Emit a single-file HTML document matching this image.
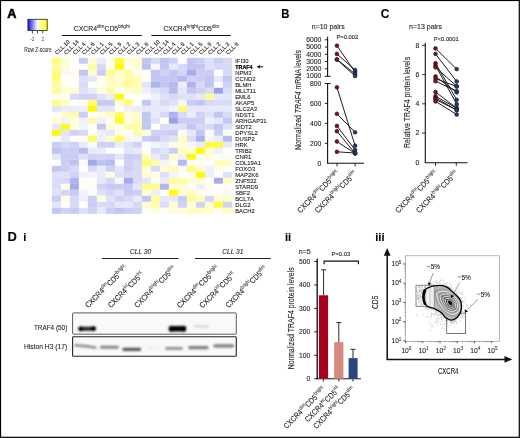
<!DOCTYPE html>
<html><head><meta charset="utf-8"><title>Figure</title>
<style>html,body{margin:0;padding:0;background:#fff;width:520px;height:438px;overflow:hidden}svg text{font-family:"Liberation Sans", sans-serif;stroke:#222;stroke-width:0.1px;paint-order:stroke}</style>
</head><body>
<svg width="520" height="438" viewBox="0 0 520 438" style="display:block;font-family:&quot;Liberation Sans&quot;, sans-serif"><defs><linearGradient id="lg" x1="0" x2="1" y1="0" y2="0"><stop offset="0" stop-color="#1010e0"/><stop offset="0.5" stop-color="#ffffff"/><stop offset="1" stop-color="#ffff00"/></linearGradient><filter id="blur1" x="-20%" y="-80%" width="140%" height="260%"><feGaussianBlur stdDeviation="0.8"/></filter><filter id="blur2" x="-20%" y="-80%" width="140%" height="260%"><feGaussianBlur stdDeviation="0.9"/></filter><filter id="blur05" x="-10%" y="-10%" width="120%" height="120%"><feGaussianBlur stdDeviation="0.35"/></filter><filter id="ident" x="0" y="0" width="520" height="438" filterUnits="userSpaceOnUse"><feOffset dx="0" dy="0"/></filter></defs><g filter="url(#ident)"><rect x="0" y="0" width="520" height="438" fill="#fff"/><text x="7.3" y="17.9" font-size="12.6" font-weight="bold" style="stroke:#000;stroke-width:0.55px" textLength="9.2" lengthAdjust="spacingAndGlyphs">A</text><rect x="27.9" y="19.3" width="19.3" height="11.2" fill="url(#lg)" stroke="#222" stroke-width="0.8"/><line x1="32.4" y1="30.6" x2="32.4" y2="33.4" stroke="#222" stroke-width="0.8"/><line x1="37.5" y1="30.6" x2="37.5" y2="33.4" stroke="#222" stroke-width="0.8"/><line x1="42.7" y1="30.6" x2="42.7" y2="33.4" stroke="#222" stroke-width="0.8"/><text x="32.4" y="41.4" font-size="4.7" text-anchor="middle" fill="#444" style="stroke-width:0">-2</text><text x="42.7" y="41.4" font-size="4.7" text-anchor="middle" fill="#444" style="stroke-width:0">2</text><text x="24.2" y="51.6" font-size="6.6" fill="#333" textLength="27.5" lengthAdjust="spacingAndGlyphs">Row Z-score</text><text x="73.8" y="30.8" font-size="6.8" text-anchor="start" textLength="56" lengthAdjust="spacingAndGlyphs" fill="#222"><tspan>CXCR4</tspan><tspan font-size="4.62" dy="-2.72" fill="#222" stroke-width="0.05">dim</tspan><tspan dy="2.72">CD5</tspan><tspan font-size="4.62" dy="-2.72" fill="#222" stroke-width="0.05">bright</tspan></text><text x="163.4" y="30.8" font-size="6.8" text-anchor="start" textLength="56" lengthAdjust="spacingAndGlyphs" fill="#222"><tspan>CXCR4</tspan><tspan font-size="4.62" dy="-2.72" fill="#222" stroke-width="0.05">bright</tspan><tspan dy="2.72">CD5</tspan><tspan font-size="4.62" dy="-2.72" fill="#222" stroke-width="0.05">dim</tspan></text><line x1="62" y1="35.5" x2="141.8" y2="35.5" stroke="#111" stroke-width="1"/><line x1="151.4" y1="35.5" x2="230.8" y2="35.5" stroke="#111" stroke-width="1"/><text x="57.30" y="55.0" font-size="5.7" fill="#222" transform="rotate(-45 57.30 55.0)">CLL 10</text><text x="66.30" y="55.0" font-size="5.7" fill="#222" transform="rotate(-45 66.30 55.0)">CLL 14</text><text x="75.30" y="55.0" font-size="5.7" fill="#222" transform="rotate(-45 75.30 55.0)">CLL 4</text><text x="84.30" y="55.0" font-size="5.7" fill="#222" transform="rotate(-45 84.30 55.0)">CLL 6</text><text x="93.30" y="55.0" font-size="5.7" fill="#222" transform="rotate(-45 93.30 55.0)">CLL 1</text><text x="102.30" y="55.0" font-size="5.7" fill="#222" transform="rotate(-45 102.30 55.0)">CLL 5</text><text x="111.30" y="55.0" font-size="5.7" fill="#222" transform="rotate(-45 111.30 55.0)">CLL 9</text><text x="120.30" y="55.0" font-size="5.7" fill="#222" transform="rotate(-45 120.30 55.0)">CLL 2</text><text x="129.30" y="55.0" font-size="5.7" fill="#222" transform="rotate(-45 129.30 55.0)">CLL 3</text><text x="138.30" y="55.0" font-size="5.7" fill="#222" transform="rotate(-45 138.30 55.0)">CLL 8</text><text x="147.30" y="55.0" font-size="5.7" fill="#222" transform="rotate(-45 147.30 55.0)">CLL 10</text><text x="156.30" y="55.0" font-size="5.7" fill="#222" transform="rotate(-45 156.30 55.0)">CLL 14</text><text x="165.30" y="55.0" font-size="5.7" fill="#222" transform="rotate(-45 165.30 55.0)">CLL 4</text><text x="174.30" y="55.0" font-size="5.7" fill="#222" transform="rotate(-45 174.30 55.0)">CLL 6</text><text x="183.30" y="55.0" font-size="5.7" fill="#222" transform="rotate(-45 183.30 55.0)">CLL 1</text><text x="192.30" y="55.0" font-size="5.7" fill="#222" transform="rotate(-45 192.30 55.0)">CLL 5</text><text x="201.30" y="55.0" font-size="5.7" fill="#222" transform="rotate(-45 201.30 55.0)">CLL 9</text><text x="210.30" y="55.0" font-size="5.7" fill="#222" transform="rotate(-45 210.30 55.0)">CLL 2</text><text x="219.30" y="55.0" font-size="5.7" fill="#222" transform="rotate(-45 219.30 55.0)">CLL 3</text><text x="228.30" y="55.0" font-size="5.7" fill="#222" transform="rotate(-45 228.30 55.0)">CLL 8</text><rect x="51.90" y="57.80" width="9.05" height="6.05" fill="#fffc77"/><rect x="60.90" y="57.80" width="9.05" height="6.05" fill="#fffdd1"/><rect x="69.90" y="57.80" width="9.05" height="6.05" fill="#ffffff"/><rect x="78.90" y="57.80" width="9.05" height="6.05" fill="#c7caf3"/><rect x="87.90" y="57.80" width="9.05" height="6.05" fill="#fffdd1"/><rect x="96.90" y="57.80" width="9.05" height="6.05" fill="#ebecfb"/><rect x="105.90" y="57.80" width="9.05" height="6.05" fill="#fffeef"/><rect x="114.90" y="57.80" width="9.05" height="6.05" fill="#fffb3f"/><rect x="123.90" y="57.80" width="9.05" height="6.05" fill="#fffdd1"/><rect x="132.90" y="57.80" width="9.05" height="6.05" fill="#fffdd1"/><rect x="141.90" y="57.80" width="9.05" height="6.05" fill="#c2c6f2"/><rect x="150.90" y="57.80" width="9.05" height="6.05" fill="#d7d9f7"/><rect x="159.90" y="57.80" width="9.05" height="6.05" fill="#c2c6f2"/><rect x="168.90" y="57.80" width="9.05" height="6.05" fill="#cfd2f5"/><rect x="177.90" y="57.80" width="9.05" height="6.05" fill="#ffffff"/><rect x="186.90" y="57.80" width="9.05" height="6.05" fill="#c2c6f2"/><rect x="195.90" y="57.80" width="9.05" height="6.05" fill="#cbcef4"/><rect x="204.90" y="57.80" width="9.05" height="6.05" fill="#dfe1f8"/><rect x="213.90" y="57.80" width="9.05" height="6.05" fill="#cbcef4"/><rect x="222.90" y="57.80" width="9.05" height="6.05" fill="#d7d9f7"/><rect x="51.90" y="63.80" width="9.05" height="6.05" fill="#fffca8"/><rect x="60.90" y="63.80" width="9.05" height="6.05" fill="#fffdd1"/><rect x="69.90" y="63.80" width="9.05" height="6.05" fill="#ffffff"/><rect x="78.90" y="63.80" width="9.05" height="6.05" fill="#ffffff"/><rect x="87.90" y="63.80" width="9.05" height="6.05" fill="#fffca8"/><rect x="96.90" y="63.80" width="9.05" height="6.05" fill="#d7d9f7"/><rect x="105.90" y="63.80" width="9.05" height="6.05" fill="#fffeef"/><rect x="114.90" y="63.80" width="9.05" height="6.05" fill="#fffa00"/><rect x="123.90" y="63.80" width="9.05" height="6.05" fill="#fffeef"/><rect x="132.90" y="63.80" width="9.05" height="6.05" fill="#fffdd1"/><rect x="141.90" y="63.80" width="9.05" height="6.05" fill="#babff1"/><rect x="150.90" y="63.80" width="9.05" height="6.05" fill="#f7f7fd"/><rect x="159.90" y="63.80" width="9.05" height="6.05" fill="#c2c6f2"/><rect x="168.90" y="63.80" width="9.05" height="6.05" fill="#e7e8fa"/><rect x="177.90" y="63.80" width="9.05" height="6.05" fill="#d7d9f7"/><rect x="186.90" y="63.80" width="9.05" height="6.05" fill="#c2c6f2"/><rect x="195.90" y="63.80" width="9.05" height="6.05" fill="#c2c6f2"/><rect x="204.90" y="63.80" width="9.05" height="6.05" fill="#dfe1f8"/><rect x="213.90" y="63.80" width="9.05" height="6.05" fill="#d7d9f7"/><rect x="222.90" y="63.80" width="9.05" height="6.05" fill="#d7d9f7"/><rect x="51.90" y="69.80" width="9.05" height="6.05" fill="#fffc77"/><rect x="60.90" y="69.80" width="9.05" height="6.05" fill="#f7f7fd"/><rect x="69.90" y="69.80" width="9.05" height="6.05" fill="#fffee4"/><rect x="78.90" y="69.80" width="9.05" height="6.05" fill="#c2c6f2"/><rect x="87.90" y="69.80" width="9.05" height="6.05" fill="#fffdd1"/><rect x="96.90" y="69.80" width="9.05" height="6.05" fill="#cbcef4"/><rect x="105.90" y="69.80" width="9.05" height="6.05" fill="#fffc95"/><rect x="114.90" y="69.80" width="9.05" height="6.05" fill="#fffdd1"/><rect x="123.90" y="69.80" width="9.05" height="6.05" fill="#fffca8"/><rect x="132.90" y="69.80" width="9.05" height="6.05" fill="#fffeef"/><rect x="141.90" y="69.80" width="9.05" height="6.05" fill="#fffef8"/><rect x="150.90" y="69.80" width="9.05" height="6.05" fill="#c2c6f2"/><rect x="159.90" y="69.80" width="9.05" height="6.05" fill="#cfd2f5"/><rect x="168.90" y="69.80" width="9.05" height="6.05" fill="#c2c6f2"/><rect x="177.90" y="69.80" width="9.05" height="6.05" fill="#d3d6f6"/><rect x="186.90" y="69.80" width="9.05" height="6.05" fill="#a6aced"/><rect x="195.90" y="69.80" width="9.05" height="6.05" fill="#cbcef4"/><rect x="204.90" y="69.80" width="9.05" height="6.05" fill="#cbcef4"/><rect x="213.90" y="69.80" width="9.05" height="6.05" fill="#ffffff"/><rect x="222.90" y="69.80" width="9.05" height="6.05" fill="#d7d9f7"/><rect x="51.90" y="75.80" width="9.05" height="6.05" fill="#fffc77"/><rect x="60.90" y="75.80" width="9.05" height="6.05" fill="#ffffff"/><rect x="69.90" y="75.80" width="9.05" height="6.05" fill="#fffef8"/><rect x="78.90" y="75.80" width="9.05" height="6.05" fill="#dfe1f8"/><rect x="87.90" y="75.80" width="9.05" height="6.05" fill="#e3e5f9"/><rect x="96.90" y="75.80" width="9.05" height="6.05" fill="#fffeef"/><rect x="105.90" y="75.80" width="9.05" height="6.05" fill="#fffdb9"/><rect x="114.90" y="75.80" width="9.05" height="6.05" fill="#fffdd1"/><rect x="123.90" y="75.80" width="9.05" height="6.05" fill="#fffca8"/><rect x="132.90" y="75.80" width="9.05" height="6.05" fill="#fffdb9"/><rect x="141.90" y="75.80" width="9.05" height="6.05" fill="#fffffb"/><rect x="150.90" y="75.80" width="9.05" height="6.05" fill="#c2c6f2"/><rect x="159.90" y="75.80" width="9.05" height="6.05" fill="#c2c6f2"/><rect x="168.90" y="75.80" width="9.05" height="6.05" fill="#c2c6f2"/><rect x="177.90" y="75.80" width="9.05" height="6.05" fill="#b6bbf0"/><rect x="186.90" y="75.80" width="9.05" height="6.05" fill="#cfd2f5"/><rect x="195.90" y="75.80" width="9.05" height="6.05" fill="#cbcef4"/><rect x="204.90" y="75.80" width="9.05" height="6.05" fill="#c2c6f2"/><rect x="213.90" y="75.80" width="9.05" height="6.05" fill="#e7e8fa"/><rect x="222.90" y="75.80" width="9.05" height="6.05" fill="#c2c6f2"/><rect x="51.90" y="81.80" width="9.05" height="6.05" fill="#fffca8"/><rect x="60.90" y="81.80" width="9.05" height="6.05" fill="#fffeef"/><rect x="69.90" y="81.80" width="9.05" height="6.05" fill="#fffef8"/><rect x="78.90" y="81.80" width="9.05" height="6.05" fill="#d7d9f7"/><rect x="87.90" y="81.80" width="9.05" height="6.05" fill="#fffeef"/><rect x="96.90" y="81.80" width="9.05" height="6.05" fill="#fffeef"/><rect x="105.90" y="81.80" width="9.05" height="6.05" fill="#fffdc1"/><rect x="114.90" y="81.80" width="9.05" height="6.05" fill="#fffdc1"/><rect x="123.90" y="81.80" width="9.05" height="6.05" fill="#fffc95"/><rect x="132.90" y="81.80" width="9.05" height="6.05" fill="#fffdb9"/><rect x="141.90" y="81.80" width="9.05" height="6.05" fill="#e3e5f9"/><rect x="150.90" y="81.80" width="9.05" height="6.05" fill="#aeb4ee"/><rect x="159.90" y="81.80" width="9.05" height="6.05" fill="#c2c6f2"/><rect x="168.90" y="81.80" width="9.05" height="6.05" fill="#b6bbf0"/><rect x="177.90" y="81.80" width="9.05" height="6.05" fill="#eff0fc"/><rect x="186.90" y="81.80" width="9.05" height="6.05" fill="#aeb4ee"/><rect x="195.90" y="81.80" width="9.05" height="6.05" fill="#d7d9f7"/><rect x="204.90" y="81.80" width="9.05" height="6.05" fill="#c2c6f2"/><rect x="213.90" y="81.80" width="9.05" height="6.05" fill="#fbfbfe"/><rect x="222.90" y="81.80" width="9.05" height="6.05" fill="#cfd2f5"/><rect x="51.90" y="87.80" width="9.05" height="6.05" fill="#fffc95"/><rect x="60.90" y="87.80" width="9.05" height="6.05" fill="#fffdd1"/><rect x="69.90" y="87.80" width="9.05" height="6.05" fill="#fffdd1"/><rect x="78.90" y="87.80" width="9.05" height="6.05" fill="#dfe1f8"/><rect x="87.90" y="87.80" width="9.05" height="6.05" fill="#ebecfb"/><rect x="96.90" y="87.80" width="9.05" height="6.05" fill="#fffede"/><rect x="105.90" y="87.80" width="9.05" height="6.05" fill="#fffca8"/><rect x="114.90" y="87.80" width="9.05" height="6.05" fill="#fffffe"/><rect x="123.90" y="87.80" width="9.05" height="6.05" fill="#fffdd1"/><rect x="132.90" y="87.80" width="9.05" height="6.05" fill="#fffdb9"/><rect x="141.90" y="87.80" width="9.05" height="6.05" fill="#eff0fc"/><rect x="150.90" y="87.80" width="9.05" height="6.05" fill="#dfe1f8"/><rect x="159.90" y="87.80" width="9.05" height="6.05" fill="#d7d9f7"/><rect x="168.90" y="87.80" width="9.05" height="6.05" fill="#b6bbf0"/><rect x="177.90" y="87.80" width="9.05" height="6.05" fill="#e3e5f9"/><rect x="186.90" y="87.80" width="9.05" height="6.05" fill="#c2c6f2"/><rect x="195.90" y="87.80" width="9.05" height="6.05" fill="#cfd2f5"/><rect x="204.90" y="87.80" width="9.05" height="6.05" fill="#dbddf8"/><rect x="213.90" y="87.80" width="9.05" height="6.05" fill="#9aa1ea"/><rect x="222.90" y="87.80" width="9.05" height="6.05" fill="#dbddf8"/><rect x="51.90" y="93.80" width="9.05" height="6.05" fill="#fffef4"/><rect x="60.90" y="93.80" width="9.05" height="6.05" fill="#fffeef"/><rect x="69.90" y="93.80" width="9.05" height="6.05" fill="#d7d9f7"/><rect x="78.90" y="93.80" width="9.05" height="6.05" fill="#cfd2f5"/><rect x="87.90" y="93.80" width="9.05" height="6.05" fill="#cfd2f5"/><rect x="96.90" y="93.80" width="9.05" height="6.05" fill="#dfe1f8"/><rect x="105.90" y="93.80" width="9.05" height="6.05" fill="#ebecfb"/><rect x="114.90" y="93.80" width="9.05" height="6.05" fill="#fffa00"/><rect x="123.90" y="93.80" width="9.05" height="6.05" fill="#fffffe"/><rect x="132.90" y="93.80" width="9.05" height="6.05" fill="#fffffe"/><rect x="141.90" y="93.80" width="9.05" height="6.05" fill="#fbfbfe"/><rect x="150.90" y="93.80" width="9.05" height="6.05" fill="#eff0fc"/><rect x="159.90" y="93.80" width="9.05" height="6.05" fill="#dfe1f8"/><rect x="168.90" y="93.80" width="9.05" height="6.05" fill="#d7d9f7"/><rect x="177.90" y="93.80" width="9.05" height="6.05" fill="#dfe1f8"/><rect x="186.90" y="93.80" width="9.05" height="6.05" fill="#dfe1f8"/><rect x="195.90" y="93.80" width="9.05" height="6.05" fill="#e7e8fa"/><rect x="204.90" y="93.80" width="9.05" height="6.05" fill="#fffc8b"/><rect x="213.90" y="93.80" width="9.05" height="6.05" fill="#e7e8fa"/><rect x="222.90" y="93.80" width="9.05" height="6.05" fill="#e3e5f9"/><rect x="51.90" y="99.80" width="9.05" height="6.05" fill="#fffc8b"/><rect x="60.90" y="99.80" width="9.05" height="6.05" fill="#fffdc1"/><rect x="69.90" y="99.80" width="9.05" height="6.05" fill="#fffffb"/><rect x="78.90" y="99.80" width="9.05" height="6.05" fill="#fffeea"/><rect x="87.90" y="99.80" width="9.05" height="6.05" fill="#fffc77"/><rect x="96.90" y="99.80" width="9.05" height="6.05" fill="#c7caf3"/><rect x="105.90" y="99.80" width="9.05" height="6.05" fill="#c7caf3"/><rect x="114.90" y="99.80" width="9.05" height="6.05" fill="#fffdd1"/><rect x="123.90" y="99.80" width="9.05" height="6.05" fill="#fffc77"/><rect x="132.90" y="99.80" width="9.05" height="6.05" fill="#fffffe"/><rect x="141.90" y="99.80" width="9.05" height="6.05" fill="#c2c6f2"/><rect x="150.90" y="99.80" width="9.05" height="6.05" fill="#e7e8fa"/><rect x="159.90" y="99.80" width="9.05" height="6.05" fill="#d7d9f7"/><rect x="168.90" y="99.80" width="9.05" height="6.05" fill="#dfe1f8"/><rect x="177.90" y="99.80" width="9.05" height="6.05" fill="#f3f4fc"/><rect x="186.90" y="99.80" width="9.05" height="6.05" fill="#cbcef4"/><rect x="195.90" y="99.80" width="9.05" height="6.05" fill="#c2c6f2"/><rect x="204.90" y="99.80" width="9.05" height="6.05" fill="#d7d9f7"/><rect x="213.90" y="99.80" width="9.05" height="6.05" fill="#dbddf8"/><rect x="222.90" y="99.80" width="9.05" height="6.05" fill="#d7d9f7"/><rect x="51.90" y="105.80" width="9.05" height="6.05" fill="#e3e5f9"/><rect x="60.90" y="105.80" width="9.05" height="6.05" fill="#ebecfb"/><rect x="69.90" y="105.80" width="9.05" height="6.05" fill="#ebecfb"/><rect x="78.90" y="105.80" width="9.05" height="6.05" fill="#eff0fc"/><rect x="87.90" y="105.80" width="9.05" height="6.05" fill="#fffa00"/><rect x="96.90" y="105.80" width="9.05" height="6.05" fill="#e3e5f9"/><rect x="105.90" y="105.80" width="9.05" height="6.05" fill="#e3e5f9"/><rect x="114.90" y="105.80" width="9.05" height="6.05" fill="#ffffff"/><rect x="123.90" y="105.80" width="9.05" height="6.05" fill="#eff0fc"/><rect x="132.90" y="105.80" width="9.05" height="6.05" fill="#ebecfb"/><rect x="141.90" y="105.80" width="9.05" height="6.05" fill="#e7e8fa"/><rect x="150.90" y="105.80" width="9.05" height="6.05" fill="#e7e8fa"/><rect x="159.90" y="105.80" width="9.05" height="6.05" fill="#e7e8fa"/><rect x="168.90" y="105.80" width="9.05" height="6.05" fill="#f3f4fc"/><rect x="177.90" y="105.80" width="9.05" height="6.05" fill="#fffc77"/><rect x="186.90" y="105.80" width="9.05" height="6.05" fill="#e7e8fa"/><rect x="195.90" y="105.80" width="9.05" height="6.05" fill="#e7e8fa"/><rect x="204.90" y="105.80" width="9.05" height="6.05" fill="#e7e8fa"/><rect x="213.90" y="105.80" width="9.05" height="6.05" fill="#e7e8fa"/><rect x="222.90" y="105.80" width="9.05" height="6.05" fill="#e7e8fa"/><rect x="51.90" y="111.80" width="9.05" height="6.05" fill="#ffffff"/><rect x="60.90" y="111.80" width="9.05" height="6.05" fill="#fffdc1"/><rect x="69.90" y="111.80" width="9.05" height="6.05" fill="#fffca8"/><rect x="78.90" y="111.80" width="9.05" height="6.05" fill="#cbcef4"/><rect x="87.90" y="111.80" width="9.05" height="6.05" fill="#ffffff"/><rect x="96.90" y="111.80" width="9.05" height="6.05" fill="#fffede"/><rect x="105.90" y="111.80" width="9.05" height="6.05" fill="#fffdc1"/><rect x="114.90" y="111.80" width="9.05" height="6.05" fill="#fffb61"/><rect x="123.90" y="111.80" width="9.05" height="6.05" fill="#fffdd1"/><rect x="132.90" y="111.80" width="9.05" height="6.05" fill="#fffdd1"/><rect x="141.90" y="111.80" width="9.05" height="6.05" fill="#c2c6f2"/><rect x="150.90" y="111.80" width="9.05" height="6.05" fill="#ebecfb"/><rect x="159.90" y="111.80" width="9.05" height="6.05" fill="#d7d9f7"/><rect x="168.90" y="111.80" width="9.05" height="6.05" fill="#aeb4ee"/><rect x="177.90" y="111.80" width="9.05" height="6.05" fill="#d7d9f7"/><rect x="186.90" y="111.80" width="9.05" height="6.05" fill="#ebecfb"/><rect x="195.90" y="111.80" width="9.05" height="6.05" fill="#cfd2f5"/><rect x="204.90" y="111.80" width="9.05" height="6.05" fill="#dfe1f8"/><rect x="213.90" y="111.80" width="9.05" height="6.05" fill="#c2c6f2"/><rect x="222.90" y="111.80" width="9.05" height="6.05" fill="#d7d9f7"/><rect x="51.90" y="117.80" width="9.05" height="6.05" fill="#fffdd1"/><rect x="60.90" y="117.80" width="9.05" height="6.05" fill="#f3f4fc"/><rect x="69.90" y="117.80" width="9.05" height="6.05" fill="#fffede"/><rect x="78.90" y="117.80" width="9.05" height="6.05" fill="#eff0fc"/><rect x="87.90" y="117.80" width="9.05" height="6.05" fill="#fffca8"/><rect x="96.90" y="117.80" width="9.05" height="6.05" fill="#eff0fc"/><rect x="105.90" y="117.80" width="9.05" height="6.05" fill="#fffef8"/><rect x="114.90" y="117.80" width="9.05" height="6.05" fill="#fffa1a"/><rect x="123.90" y="117.80" width="9.05" height="6.05" fill="#fffee4"/><rect x="132.90" y="117.80" width="9.05" height="6.05" fill="#fffdb9"/><rect x="141.90" y="117.80" width="9.05" height="6.05" fill="#c2c6f2"/><rect x="150.90" y="117.80" width="9.05" height="6.05" fill="#dfe1f8"/><rect x="159.90" y="117.80" width="9.05" height="6.05" fill="#fffeef"/><rect x="168.90" y="117.80" width="9.05" height="6.05" fill="#9aa1ea"/><rect x="177.90" y="117.80" width="9.05" height="6.05" fill="#cbcef4"/><rect x="186.90" y="117.80" width="9.05" height="6.05" fill="#cbcef4"/><rect x="195.90" y="117.80" width="9.05" height="6.05" fill="#cbcef4"/><rect x="204.90" y="117.80" width="9.05" height="6.05" fill="#eff0fc"/><rect x="213.90" y="117.80" width="9.05" height="6.05" fill="#e7e8fa"/><rect x="222.90" y="117.80" width="9.05" height="6.05" fill="#c2c6f2"/><rect x="51.90" y="123.80" width="9.05" height="6.05" fill="#e7e8fa"/><rect x="60.90" y="123.80" width="9.05" height="6.05" fill="#fffa1a"/><rect x="69.90" y="123.80" width="9.05" height="6.05" fill="#fffede"/><rect x="78.90" y="123.80" width="9.05" height="6.05" fill="#f3f4fc"/><rect x="87.90" y="123.80" width="9.05" height="6.05" fill="#ffffff"/><rect x="96.90" y="123.80" width="9.05" height="6.05" fill="#c2c6f2"/><rect x="105.90" y="123.80" width="9.05" height="6.05" fill="#fffdd1"/><rect x="114.90" y="123.80" width="9.05" height="6.05" fill="#ffffff"/><rect x="123.90" y="123.80" width="9.05" height="6.05" fill="#fffca8"/><rect x="132.90" y="123.80" width="9.05" height="6.05" fill="#fffca8"/><rect x="141.90" y="123.80" width="9.05" height="6.05" fill="#c2c6f2"/><rect x="150.90" y="123.80" width="9.05" height="6.05" fill="#fffef8"/><rect x="159.90" y="123.80" width="9.05" height="6.05" fill="#dbddf8"/><rect x="168.90" y="123.80" width="9.05" height="6.05" fill="#dfe1f8"/><rect x="177.90" y="123.80" width="9.05" height="6.05" fill="#dfe1f8"/><rect x="186.90" y="123.80" width="9.05" height="6.05" fill="#c2c6f2"/><rect x="195.90" y="123.80" width="9.05" height="6.05" fill="#d7d9f7"/><rect x="204.90" y="123.80" width="9.05" height="6.05" fill="#d7d9f7"/><rect x="213.90" y="123.80" width="9.05" height="6.05" fill="#c2c6f2"/><rect x="222.90" y="123.80" width="9.05" height="6.05" fill="#dfe1f8"/><rect x="51.90" y="129.80" width="9.05" height="6.05" fill="#fffa00"/><rect x="60.90" y="129.80" width="9.05" height="6.05" fill="#e3e5f9"/><rect x="69.90" y="129.80" width="9.05" height="6.05" fill="#cfd2f5"/><rect x="78.90" y="129.80" width="9.05" height="6.05" fill="#d7d9f7"/><rect x="87.90" y="129.80" width="9.05" height="6.05" fill="#fffef8"/><rect x="96.90" y="129.80" width="9.05" height="6.05" fill="#eff0fc"/><rect x="105.90" y="129.80" width="9.05" height="6.05" fill="#e7e8fa"/><rect x="114.90" y="129.80" width="9.05" height="6.05" fill="#fffede"/><rect x="123.90" y="129.80" width="9.05" height="6.05" fill="#fffef8"/><rect x="132.90" y="129.80" width="9.05" height="6.05" fill="#fffca8"/><rect x="141.90" y="129.80" width="9.05" height="6.05" fill="#fffede"/><rect x="150.90" y="129.80" width="9.05" height="6.05" fill="#cfd2f5"/><rect x="159.90" y="129.80" width="9.05" height="6.05" fill="#cfd2f5"/><rect x="168.90" y="129.80" width="9.05" height="6.05" fill="#cbcef4"/><rect x="177.90" y="129.80" width="9.05" height="6.05" fill="#fbfbfe"/><rect x="186.90" y="129.80" width="9.05" height="6.05" fill="#e7e8fa"/><rect x="195.90" y="129.80" width="9.05" height="6.05" fill="#c2c6f2"/><rect x="204.90" y="129.80" width="9.05" height="6.05" fill="#fbfbfe"/><rect x="213.90" y="129.80" width="9.05" height="6.05" fill="#cbcef4"/><rect x="222.90" y="129.80" width="9.05" height="6.05" fill="#fffef4"/><rect x="51.90" y="135.80" width="9.05" height="6.05" fill="#fffffe"/><rect x="60.90" y="135.80" width="9.05" height="6.05" fill="#e7e8fa"/><rect x="69.90" y="135.80" width="9.05" height="6.05" fill="#fffffb"/><rect x="78.90" y="135.80" width="9.05" height="6.05" fill="#fffef4"/><rect x="87.90" y="135.80" width="9.05" height="6.05" fill="#fffb61"/><rect x="96.90" y="135.80" width="9.05" height="6.05" fill="#eff0fc"/><rect x="105.90" y="135.80" width="9.05" height="6.05" fill="#fffdd1"/><rect x="114.90" y="135.80" width="9.05" height="6.05" fill="#fffb61"/><rect x="123.90" y="135.80" width="9.05" height="6.05" fill="#f7f7fd"/><rect x="132.90" y="135.80" width="9.05" height="6.05" fill="#f7f7fd"/><rect x="141.90" y="135.80" width="9.05" height="6.05" fill="#cbcef4"/><rect x="150.90" y="135.80" width="9.05" height="6.05" fill="#c2c6f2"/><rect x="159.90" y="135.80" width="9.05" height="6.05" fill="#d7d9f7"/><rect x="168.90" y="135.80" width="9.05" height="6.05" fill="#dfe1f8"/><rect x="177.90" y="135.80" width="9.05" height="6.05" fill="#fffdc1"/><rect x="186.90" y="135.80" width="9.05" height="6.05" fill="#dbddf8"/><rect x="195.90" y="135.80" width="9.05" height="6.05" fill="#aeb4ee"/><rect x="204.90" y="135.80" width="9.05" height="6.05" fill="#f3f4fc"/><rect x="213.90" y="135.80" width="9.05" height="6.05" fill="#ebecfb"/><rect x="222.90" y="135.80" width="9.05" height="6.05" fill="#b6bbf0"/><rect x="51.90" y="141.80" width="9.05" height="6.05" fill="#cbcef4"/><rect x="60.90" y="141.80" width="9.05" height="6.05" fill="#d7d9f7"/><rect x="69.90" y="141.80" width="9.05" height="6.05" fill="#cfd2f5"/><rect x="78.90" y="141.80" width="9.05" height="6.05" fill="#ebecfb"/><rect x="87.90" y="141.80" width="9.05" height="6.05" fill="#fbfbfe"/><rect x="96.90" y="141.80" width="9.05" height="6.05" fill="#cfd2f5"/><rect x="105.90" y="141.80" width="9.05" height="6.05" fill="#cfd2f5"/><rect x="114.90" y="141.80" width="9.05" height="6.05" fill="#ebecfb"/><rect x="123.90" y="141.80" width="9.05" height="6.05" fill="#dfe1f8"/><rect x="132.90" y="141.80" width="9.05" height="6.05" fill="#cfd2f5"/><rect x="141.90" y="141.80" width="9.05" height="6.05" fill="#fbfbfe"/><rect x="150.90" y="141.80" width="9.05" height="6.05" fill="#f3f4fc"/><rect x="159.90" y="141.80" width="9.05" height="6.05" fill="#ebecfb"/><rect x="168.90" y="141.80" width="9.05" height="6.05" fill="#fffee4"/><rect x="177.90" y="141.80" width="9.05" height="6.05" fill="#fffede"/><rect x="186.90" y="141.80" width="9.05" height="6.05" fill="#f7f7fd"/><rect x="195.90" y="141.80" width="9.05" height="6.05" fill="#ebecfb"/><rect x="204.90" y="141.80" width="9.05" height="6.05" fill="#fffb3f"/><rect x="213.90" y="141.80" width="9.05" height="6.05" fill="#fffb3f"/><rect x="222.90" y="141.80" width="9.05" height="6.05" fill="#e7e8fa"/><rect x="51.90" y="147.80" width="9.05" height="6.05" fill="#bec3f2"/><rect x="60.90" y="147.80" width="9.05" height="6.05" fill="#cbcef4"/><rect x="69.90" y="147.80" width="9.05" height="6.05" fill="#cbcef4"/><rect x="78.90" y="147.80" width="9.05" height="6.05" fill="#b6bbf0"/><rect x="87.90" y="147.80" width="9.05" height="6.05" fill="#e7e8fa"/><rect x="96.90" y="147.80" width="9.05" height="6.05" fill="#ebecfb"/><rect x="105.90" y="147.80" width="9.05" height="6.05" fill="#fffffb"/><rect x="114.90" y="147.80" width="9.05" height="6.05" fill="#fffffb"/><rect x="123.90" y="147.80" width="9.05" height="6.05" fill="#e3e5f9"/><rect x="132.90" y="147.80" width="9.05" height="6.05" fill="#ebecfb"/><rect x="141.90" y="147.80" width="9.05" height="6.05" fill="#ffffff"/><rect x="150.90" y="147.80" width="9.05" height="6.05" fill="#d7d9f7"/><rect x="159.90" y="147.80" width="9.05" height="6.05" fill="#e3e5f9"/><rect x="168.90" y="147.80" width="9.05" height="6.05" fill="#cbcef4"/><rect x="177.90" y="147.80" width="9.05" height="6.05" fill="#fffdb9"/><rect x="186.90" y="147.80" width="9.05" height="6.05" fill="#fffdd1"/><rect x="195.90" y="147.80" width="9.05" height="6.05" fill="#fffa00"/><rect x="204.90" y="147.80" width="9.05" height="6.05" fill="#fffdd1"/><rect x="213.90" y="147.80" width="9.05" height="6.05" fill="#eff0fc"/><rect x="222.90" y="147.80" width="9.05" height="6.05" fill="#fffffe"/><rect x="51.90" y="153.80" width="9.05" height="6.05" fill="#e3e5f9"/><rect x="60.90" y="153.80" width="9.05" height="6.05" fill="#cbcef4"/><rect x="69.90" y="153.80" width="9.05" height="6.05" fill="#cbcef4"/><rect x="78.90" y="153.80" width="9.05" height="6.05" fill="#dfe1f8"/><rect x="87.90" y="153.80" width="9.05" height="6.05" fill="#cfd2f5"/><rect x="96.90" y="153.80" width="9.05" height="6.05" fill="#d3d6f6"/><rect x="105.90" y="153.80" width="9.05" height="6.05" fill="#cfd2f5"/><rect x="114.90" y="153.80" width="9.05" height="6.05" fill="#e3e5f9"/><rect x="123.90" y="153.80" width="9.05" height="6.05" fill="#cbcef4"/><rect x="132.90" y="153.80" width="9.05" height="6.05" fill="#cfd2f5"/><rect x="141.90" y="153.80" width="9.05" height="6.05" fill="#fffdb1"/><rect x="150.90" y="153.80" width="9.05" height="6.05" fill="#ebecfb"/><rect x="159.90" y="153.80" width="9.05" height="6.05" fill="#d7d9f7"/><rect x="168.90" y="153.80" width="9.05" height="6.05" fill="#fffdd1"/><rect x="177.90" y="153.80" width="9.05" height="6.05" fill="#eff0fc"/><rect x="186.90" y="153.80" width="9.05" height="6.05" fill="#fffa00"/><rect x="195.90" y="153.80" width="9.05" height="6.05" fill="#fffeef"/><rect x="204.90" y="153.80" width="9.05" height="6.05" fill="#fffede"/><rect x="213.90" y="153.80" width="9.05" height="6.05" fill="#fffef4"/><rect x="222.90" y="153.80" width="9.05" height="6.05" fill="#fbfbfe"/><rect x="51.90" y="159.80" width="9.05" height="6.05" fill="#fffffe"/><rect x="60.90" y="159.80" width="9.05" height="6.05" fill="#cbcef4"/><rect x="69.90" y="159.80" width="9.05" height="6.05" fill="#bec3f2"/><rect x="78.90" y="159.80" width="9.05" height="6.05" fill="#fbfbfe"/><rect x="87.90" y="159.80" width="9.05" height="6.05" fill="#a2a8ec"/><rect x="96.90" y="159.80" width="9.05" height="6.05" fill="#bec3f2"/><rect x="105.90" y="159.80" width="9.05" height="6.05" fill="#b6bbf0"/><rect x="114.90" y="159.80" width="9.05" height="6.05" fill="#ffffff"/><rect x="123.90" y="159.80" width="9.05" height="6.05" fill="#cfd2f5"/><rect x="132.90" y="159.80" width="9.05" height="6.05" fill="#d7d9f7"/><rect x="141.90" y="159.80" width="9.05" height="6.05" fill="#fffc77"/><rect x="150.90" y="159.80" width="9.05" height="6.05" fill="#fffca8"/><rect x="159.90" y="159.80" width="9.05" height="6.05" fill="#f3f4fc"/><rect x="168.90" y="159.80" width="9.05" height="6.05" fill="#fffeea"/><rect x="177.90" y="159.80" width="9.05" height="6.05" fill="#b6bbf0"/><rect x="186.90" y="159.80" width="9.05" height="6.05" fill="#ffffff"/><rect x="195.90" y="159.80" width="9.05" height="6.05" fill="#fffeef"/><rect x="204.90" y="159.80" width="9.05" height="6.05" fill="#ffffff"/><rect x="213.90" y="159.80" width="9.05" height="6.05" fill="#fffdb9"/><rect x="222.90" y="159.80" width="9.05" height="6.05" fill="#fffdc1"/><rect x="51.90" y="165.80" width="9.05" height="6.05" fill="#c2c6f2"/><rect x="60.90" y="165.80" width="9.05" height="6.05" fill="#cbcef4"/><rect x="69.90" y="165.80" width="9.05" height="6.05" fill="#d7d9f7"/><rect x="78.90" y="165.80" width="9.05" height="6.05" fill="#ffffff"/><rect x="87.90" y="165.80" width="9.05" height="6.05" fill="#d7d9f7"/><rect x="96.90" y="165.80" width="9.05" height="6.05" fill="#ebecfb"/><rect x="105.90" y="165.80" width="9.05" height="6.05" fill="#cfd2f5"/><rect x="114.90" y="165.80" width="9.05" height="6.05" fill="#e3e5f9"/><rect x="123.90" y="165.80" width="9.05" height="6.05" fill="#cbcef4"/><rect x="132.90" y="165.80" width="9.05" height="6.05" fill="#d7d9f7"/><rect x="141.90" y="165.80" width="9.05" height="6.05" fill="#fffdd1"/><rect x="150.90" y="165.80" width="9.05" height="6.05" fill="#d7d9f7"/><rect x="159.90" y="165.80" width="9.05" height="6.05" fill="#fffdd1"/><rect x="168.90" y="165.80" width="9.05" height="6.05" fill="#fffdb9"/><rect x="177.90" y="165.80" width="9.05" height="6.05" fill="#fbfbfe"/><rect x="186.90" y="165.80" width="9.05" height="6.05" fill="#fffc77"/><rect x="195.90" y="165.80" width="9.05" height="6.05" fill="#fffdd1"/><rect x="204.90" y="165.80" width="9.05" height="6.05" fill="#eff0fc"/><rect x="213.90" y="165.80" width="9.05" height="6.05" fill="#fffede"/><rect x="222.90" y="165.80" width="9.05" height="6.05" fill="#fffeef"/><rect x="51.90" y="171.80" width="9.05" height="6.05" fill="#dfe1f8"/><rect x="60.90" y="171.80" width="9.05" height="6.05" fill="#dfe1f8"/><rect x="69.90" y="171.80" width="9.05" height="6.05" fill="#cfd2f5"/><rect x="78.90" y="171.80" width="9.05" height="6.05" fill="#eff0fc"/><rect x="87.90" y="171.80" width="9.05" height="6.05" fill="#f3f4fc"/><rect x="96.90" y="171.80" width="9.05" height="6.05" fill="#ebecfb"/><rect x="105.90" y="171.80" width="9.05" height="6.05" fill="#fffede"/><rect x="114.90" y="171.80" width="9.05" height="6.05" fill="#dfe1f8"/><rect x="123.90" y="171.80" width="9.05" height="6.05" fill="#d7d9f7"/><rect x="132.90" y="171.80" width="9.05" height="6.05" fill="#d7d9f7"/><rect x="141.90" y="171.80" width="9.05" height="6.05" fill="#fffdd1"/><rect x="150.90" y="171.80" width="9.05" height="6.05" fill="#fffeea"/><rect x="159.90" y="171.80" width="9.05" height="6.05" fill="#dfe1f8"/><rect x="168.90" y="171.80" width="9.05" height="6.05" fill="#f3f4fc"/><rect x="177.90" y="171.80" width="9.05" height="6.05" fill="#fffef8"/><rect x="186.90" y="171.80" width="9.05" height="6.05" fill="#fffeef"/><rect x="195.90" y="171.80" width="9.05" height="6.05" fill="#fffa00"/><rect x="204.90" y="171.80" width="9.05" height="6.05" fill="#eff0fc"/><rect x="213.90" y="171.80" width="9.05" height="6.05" fill="#ffffff"/><rect x="222.90" y="171.80" width="9.05" height="6.05" fill="#dfe1f8"/><rect x="51.90" y="177.80" width="9.05" height="6.05" fill="#dbddf8"/><rect x="60.90" y="177.80" width="9.05" height="6.05" fill="#d7d9f7"/><rect x="69.90" y="177.80" width="9.05" height="6.05" fill="#aeb4ee"/><rect x="78.90" y="177.80" width="9.05" height="6.05" fill="#fffef4"/><rect x="87.90" y="177.80" width="9.05" height="6.05" fill="#fffef4"/><rect x="96.90" y="177.80" width="9.05" height="6.05" fill="#e7e8fa"/><rect x="105.90" y="177.80" width="9.05" height="6.05" fill="#d7d9f7"/><rect x="114.90" y="177.80" width="9.05" height="6.05" fill="#fbfbfe"/><rect x="123.90" y="177.80" width="9.05" height="6.05" fill="#a6aced"/><rect x="132.90" y="177.80" width="9.05" height="6.05" fill="#dbddf8"/><rect x="141.90" y="177.80" width="9.05" height="6.05" fill="#e3e5f9"/><rect x="150.90" y="177.80" width="9.05" height="6.05" fill="#fffeef"/><rect x="159.90" y="177.80" width="9.05" height="6.05" fill="#ebecfb"/><rect x="168.90" y="177.80" width="9.05" height="6.05" fill="#fffc9f"/><rect x="177.90" y="177.80" width="9.05" height="6.05" fill="#fffca8"/><rect x="186.90" y="177.80" width="9.05" height="6.05" fill="#fffdd1"/><rect x="195.90" y="177.80" width="9.05" height="6.05" fill="#fffdd1"/><rect x="204.90" y="177.80" width="9.05" height="6.05" fill="#fffef8"/><rect x="213.90" y="177.80" width="9.05" height="6.05" fill="#a6aced"/><rect x="222.90" y="177.80" width="9.05" height="6.05" fill="#fffdb9"/><rect x="51.90" y="183.80" width="9.05" height="6.05" fill="#dbddf8"/><rect x="60.90" y="183.80" width="9.05" height="6.05" fill="#fffede"/><rect x="69.90" y="183.80" width="9.05" height="6.05" fill="#a6aced"/><rect x="78.90" y="183.80" width="9.05" height="6.05" fill="#fffef4"/><rect x="87.90" y="183.80" width="9.05" height="6.05" fill="#fbfbfe"/><rect x="96.90" y="183.80" width="9.05" height="6.05" fill="#cfd2f5"/><rect x="105.90" y="183.80" width="9.05" height="6.05" fill="#c7caf3"/><rect x="114.90" y="183.80" width="9.05" height="6.05" fill="#cbcef4"/><rect x="123.90" y="183.80" width="9.05" height="6.05" fill="#c7caf3"/><rect x="132.90" y="183.80" width="9.05" height="6.05" fill="#e3e5f9"/><rect x="141.90" y="183.80" width="9.05" height="6.05" fill="#fffc8b"/><rect x="150.90" y="183.80" width="9.05" height="6.05" fill="#fffc8b"/><rect x="159.90" y="183.80" width="9.05" height="6.05" fill="#aeb4ee"/><rect x="168.90" y="183.80" width="9.05" height="6.05" fill="#fffdd1"/><rect x="177.90" y="183.80" width="9.05" height="6.05" fill="#fffdd1"/><rect x="186.90" y="183.80" width="9.05" height="6.05" fill="#fffef4"/><rect x="195.90" y="183.80" width="9.05" height="6.05" fill="#eff0fc"/><rect x="204.90" y="183.80" width="9.05" height="6.05" fill="#fffeef"/><rect x="213.90" y="183.80" width="9.05" height="6.05" fill="#ffffff"/><rect x="222.90" y="183.80" width="9.05" height="6.05" fill="#fffef8"/><rect x="51.90" y="189.80" width="9.05" height="6.05" fill="#dfe1f8"/><rect x="60.90" y="189.80" width="9.05" height="6.05" fill="#d3d6f6"/><rect x="69.90" y="189.80" width="9.05" height="6.05" fill="#c7caf3"/><rect x="78.90" y="189.80" width="9.05" height="6.05" fill="#f3f4fc"/><rect x="87.90" y="189.80" width="9.05" height="6.05" fill="#fffef4"/><rect x="96.90" y="189.80" width="9.05" height="6.05" fill="#dfe1f8"/><rect x="105.90" y="189.80" width="9.05" height="6.05" fill="#d3d6f6"/><rect x="114.90" y="189.80" width="9.05" height="6.05" fill="#dfe1f8"/><rect x="123.90" y="189.80" width="9.05" height="6.05" fill="#c7caf3"/><rect x="132.90" y="189.80" width="9.05" height="6.05" fill="#cbcef4"/><rect x="141.90" y="189.80" width="9.05" height="6.05" fill="#fffdd1"/><rect x="150.90" y="189.80" width="9.05" height="6.05" fill="#eff0fc"/><rect x="159.90" y="189.80" width="9.05" height="6.05" fill="#ffffff"/><rect x="168.90" y="189.80" width="9.05" height="6.05" fill="#fffa1a"/><rect x="177.90" y="189.80" width="9.05" height="6.05" fill="#fffdd1"/><rect x="186.90" y="189.80" width="9.05" height="6.05" fill="#fffdc1"/><rect x="195.90" y="189.80" width="9.05" height="6.05" fill="#fffeef"/><rect x="204.90" y="189.80" width="9.05" height="6.05" fill="#ffffff"/><rect x="213.90" y="189.80" width="9.05" height="6.05" fill="#fffef8"/><rect x="222.90" y="189.80" width="9.05" height="6.05" fill="#f7f7fd"/><rect x="51.90" y="195.80" width="9.05" height="6.05" fill="#cbcef4"/><rect x="60.90" y="195.80" width="9.05" height="6.05" fill="#fffee4"/><rect x="69.90" y="195.80" width="9.05" height="6.05" fill="#d7d9f7"/><rect x="78.90" y="195.80" width="9.05" height="6.05" fill="#eff0fc"/><rect x="87.90" y="195.80" width="9.05" height="6.05" fill="#cbcef4"/><rect x="96.90" y="195.80" width="9.05" height="6.05" fill="#fffede"/><rect x="105.90" y="195.80" width="9.05" height="6.05" fill="#dfe1f8"/><rect x="114.90" y="195.80" width="9.05" height="6.05" fill="#cfd2f5"/><rect x="123.90" y="195.80" width="9.05" height="6.05" fill="#d7d9f7"/><rect x="132.90" y="195.80" width="9.05" height="6.05" fill="#e7e8fa"/><rect x="141.90" y="195.80" width="9.05" height="6.05" fill="#c2c6f2"/><rect x="150.90" y="195.80" width="9.05" height="6.05" fill="#fffca8"/><rect x="159.90" y="195.80" width="9.05" height="6.05" fill="#e7e8fa"/><rect x="168.90" y="195.80" width="9.05" height="6.05" fill="#e7e8fa"/><rect x="177.90" y="195.80" width="9.05" height="6.05" fill="#cbcef4"/><rect x="186.90" y="195.80" width="9.05" height="6.05" fill="#fffc9f"/><rect x="195.90" y="195.80" width="9.05" height="6.05" fill="#fffdb9"/><rect x="204.90" y="195.80" width="9.05" height="6.05" fill="#d3d6f6"/><rect x="213.90" y="195.80" width="9.05" height="6.05" fill="#fffdd1"/><rect x="222.90" y="195.80" width="9.05" height="6.05" fill="#fffdc1"/><rect x="51.90" y="201.80" width="9.05" height="6.05" fill="#e3e5f9"/><rect x="60.90" y="201.80" width="9.05" height="6.05" fill="#fffef8"/><rect x="69.90" y="201.80" width="9.05" height="6.05" fill="#d7d9f7"/><rect x="78.90" y="201.80" width="9.05" height="6.05" fill="#ffffff"/><rect x="87.90" y="201.80" width="9.05" height="6.05" fill="#cbcef4"/><rect x="96.90" y="201.80" width="9.05" height="6.05" fill="#dbddf8"/><rect x="105.90" y="201.80" width="9.05" height="6.05" fill="#d7d9f7"/><rect x="114.90" y="201.80" width="9.05" height="6.05" fill="#e7e8fa"/><rect x="123.90" y="201.80" width="9.05" height="6.05" fill="#e7e8fa"/><rect x="132.90" y="201.80" width="9.05" height="6.05" fill="#d7d9f7"/><rect x="141.90" y="201.80" width="9.05" height="6.05" fill="#fffdd1"/><rect x="150.90" y="201.80" width="9.05" height="6.05" fill="#fffca8"/><rect x="159.90" y="201.80" width="9.05" height="6.05" fill="#dbddf8"/><rect x="168.90" y="201.80" width="9.05" height="6.05" fill="#fffdd1"/><rect x="177.90" y="201.80" width="9.05" height="6.05" fill="#cfd2f5"/><rect x="186.90" y="201.80" width="9.05" height="6.05" fill="#fffede"/><rect x="195.90" y="201.80" width="9.05" height="6.05" fill="#cfd2f5"/><rect x="204.90" y="201.80" width="9.05" height="6.05" fill="#fffdd1"/><rect x="213.90" y="201.80" width="9.05" height="6.05" fill="#fffb3f"/><rect x="222.90" y="201.80" width="9.05" height="6.05" fill="#cfd2f5"/><rect x="51.90" y="207.80" width="9.05" height="6.05" fill="#c2c6f2"/><rect x="60.90" y="207.80" width="9.05" height="6.05" fill="#cfd2f5"/><rect x="69.90" y="207.80" width="9.05" height="6.05" fill="#c7caf3"/><rect x="78.90" y="207.80" width="9.05" height="6.05" fill="#dfe1f8"/><rect x="87.90" y="207.80" width="9.05" height="6.05" fill="#cfd2f5"/><rect x="96.90" y="207.80" width="9.05" height="6.05" fill="#e7e8fa"/><rect x="105.90" y="207.80" width="9.05" height="6.05" fill="#cbcef4"/><rect x="114.90" y="207.80" width="9.05" height="6.05" fill="#c2c6f2"/><rect x="123.90" y="207.80" width="9.05" height="6.05" fill="#cbcef4"/><rect x="132.90" y="207.80" width="9.05" height="6.05" fill="#cfd2f5"/><rect x="141.90" y="207.80" width="9.05" height="6.05" fill="#fffeef"/><rect x="150.90" y="207.80" width="9.05" height="6.05" fill="#fffede"/><rect x="159.90" y="207.80" width="9.05" height="6.05" fill="#fffef4"/><rect x="168.90" y="207.80" width="9.05" height="6.05" fill="#fffdd1"/><rect x="177.90" y="207.80" width="9.05" height="6.05" fill="#fffede"/><rect x="186.90" y="207.80" width="9.05" height="6.05" fill="#fffdc1"/><rect x="195.90" y="207.80" width="9.05" height="6.05" fill="#fffdb9"/><rect x="204.90" y="207.80" width="9.05" height="6.05" fill="#fffdd1"/><rect x="213.90" y="207.80" width="9.05" height="6.05" fill="#fffeef"/><rect x="222.90" y="207.80" width="9.05" height="6.05" fill="#fffdc1"/><text x="235.2" y="62.60" font-size="5.9" fill="#222">IFI30</text><text x="235.2" y="68.60" font-size="5.9" font-weight="bold" fill="#000" style="stroke:#000;stroke-width:0.25px" textLength="17.4" lengthAdjust="spacingAndGlyphs">TRAF4</text><text x="235.2" y="74.60" font-size="5.9" fill="#222">NPM3</text><text x="235.2" y="80.60" font-size="5.9" fill="#222">CCND2</text><text x="235.2" y="86.60" font-size="5.9" fill="#222">BLMH</text><text x="235.2" y="92.60" font-size="5.9" fill="#222">MLLT11</text><text x="235.2" y="98.60" font-size="5.9" fill="#222">EML6</text><text x="235.2" y="104.60" font-size="5.9" fill="#222">AKAP5</text><text x="235.2" y="110.60" font-size="5.9" fill="#222">SLC2A3</text><text x="235.2" y="116.60" font-size="5.9" fill="#222">NDST1</text><text x="235.2" y="122.60" font-size="5.9" fill="#222">ARHGAP31</text><text x="235.2" y="128.60" font-size="5.9" fill="#222">SIDT2</text><text x="235.2" y="134.60" font-size="5.9" fill="#222">DPYSL2</text><text x="235.2" y="140.60" font-size="5.9" fill="#222">DUSP2</text><text x="235.2" y="146.60" font-size="5.9" fill="#222">HRK</text><text x="235.2" y="152.60" font-size="5.9" fill="#222">TRIB2</text><text x="235.2" y="158.60" font-size="5.9" fill="#222">CNR1</text><text x="235.2" y="164.60" font-size="5.9" fill="#222">COL19A1</text><text x="235.2" y="170.60" font-size="5.9" fill="#222">FOXO3</text><text x="235.2" y="176.60" font-size="5.9" fill="#222">MAP2K6</text><text x="235.2" y="182.60" font-size="5.9" fill="#222">ZNF532</text><text x="235.2" y="188.60" font-size="5.9" fill="#222">STARD9</text><text x="235.2" y="194.60" font-size="5.9" fill="#222">SBF2</text><text x="235.2" y="200.60" font-size="5.9" fill="#222">BCL7A</text><text x="235.2" y="206.60" font-size="5.9" fill="#222">DLG2</text><text x="235.2" y="212.60" font-size="5.9" fill="#222">BACH2</text><line x1="258.5" y1="66.8" x2="263.2" y2="66.8" stroke="#111" stroke-width="1.0"/><polygon points="256.6,66.8 260.0,65.1 260.0,68.5" fill="#111"/><text x="281.2" y="17.9" font-size="12.4" font-weight="bold" textLength="8.2" lengthAdjust="spacingAndGlyphs">B</text><text x="328.2" y="29.1" font-size="7.0" text-anchor="middle" fill="#222">n=10 pairs</text><text x="347.3" y="38.5" font-size="5.8" text-anchor="middle" fill="#222">P=0.002</text><line x1="327.6" y1="36.8" x2="327.6" y2="76.6" stroke="#111" stroke-width="1.1"/><line x1="324.8" y1="76.3" x2="330.6" y2="76.3" stroke="#111" stroke-width="1"/><line x1="324.8" y1="39.80" x2="327.6" y2="39.80" stroke="#111" stroke-width="0.9"/><text x="321.4" y="42.20" font-size="6.8" text-anchor="end" fill="#222">6000</text><line x1="324.8" y1="47.05" x2="327.6" y2="47.05" stroke="#111" stroke-width="0.9"/><text x="321.4" y="49.45" font-size="6.8" text-anchor="end" fill="#222">5000</text><line x1="324.8" y1="54.30" x2="327.6" y2="54.30" stroke="#111" stroke-width="0.9"/><text x="321.4" y="56.70" font-size="6.8" text-anchor="end" fill="#222">4000</text><line x1="324.8" y1="61.55" x2="327.6" y2="61.55" stroke="#111" stroke-width="0.9"/><text x="321.4" y="63.95" font-size="6.8" text-anchor="end" fill="#222">3000</text><line x1="324.8" y1="68.80" x2="327.6" y2="68.80" stroke="#111" stroke-width="0.9"/><text x="321.4" y="71.20" font-size="6.8" text-anchor="end" fill="#222">2000</text><text x="321.4" y="78.45" font-size="6.8" text-anchor="end" fill="#222">1000</text><line x1="327.6" y1="83.5" x2="327.6" y2="163.2" stroke="#111" stroke-width="1.1"/><line x1="324.8" y1="83.5" x2="330.6" y2="83.5" stroke="#111" stroke-width="1"/><text x="321.4" y="85.90" font-size="6.8" text-anchor="end" fill="#222">800</text><line x1="324.8" y1="103.45" x2="327.6" y2="103.45" stroke="#111" stroke-width="0.9"/><text x="321.4" y="105.85" font-size="6.8" text-anchor="end" fill="#222">600</text><line x1="324.8" y1="123.40" x2="327.6" y2="123.40" stroke="#111" stroke-width="0.9"/><text x="321.4" y="125.80" font-size="6.8" text-anchor="end" fill="#222">400</text><line x1="324.8" y1="143.35" x2="327.6" y2="143.35" stroke="#111" stroke-width="0.9"/><text x="321.4" y="145.75" font-size="6.8" text-anchor="end" fill="#222">200</text><text x="321.4" y="165.70" font-size="6.8" text-anchor="end" fill="#222">0</text><line x1="327.05" y1="163.2" x2="364" y2="163.2" stroke="#111" stroke-width="1.1"/><line x1="337.0" y1="163.2" x2="337.0" y2="166.3" stroke="#111" stroke-width="0.9"/><line x1="355.1" y1="163.2" x2="355.1" y2="166.3" stroke="#111" stroke-width="0.9"/><text transform="translate(300.8 100.0) rotate(-90)" font-size="8.6" text-anchor="middle" fill="#222" textLength="100" lengthAdjust="spacingAndGlyphs">Normalized <tspan font-style="italic">TRAF4</tspan> mRNA levels</text><line x1="336.9" y1="45.7" x2="355.1" y2="72.0" stroke="#111" stroke-width="0.95"/><line x1="336.9" y1="53.9" x2="355.1" y2="70.0" stroke="#111" stroke-width="0.95"/><line x1="336.9" y1="59.4" x2="355.1" y2="74.0" stroke="#111" stroke-width="0.95"/><line x1="336.9" y1="59.6" x2="355.1" y2="76.0" stroke="#111" stroke-width="0.95"/><line x1="336.9" y1="87.3" x2="355.1" y2="145.7" stroke="#111" stroke-width="0.95"/><line x1="336.9" y1="113.8" x2="355.1" y2="132.3" stroke="#111" stroke-width="0.95"/><line x1="336.9" y1="125.9" x2="355.1" y2="150.0" stroke="#111" stroke-width="0.95"/><line x1="336.9" y1="131.2" x2="355.1" y2="153.4" stroke="#111" stroke-width="0.95"/><line x1="336.9" y1="141.5" x2="355.1" y2="153.4" stroke="#111" stroke-width="0.95"/><line x1="336.9" y1="151.8" x2="355.1" y2="153.0" stroke="#111" stroke-width="0.95"/><circle cx="336.9" cy="45.7" r="1.9" fill="#880a1c" stroke="#1a1a1a" stroke-width="0.6"/><circle cx="336.9" cy="53.9" r="1.9" fill="#880a1c" stroke="#1a1a1a" stroke-width="0.6"/><circle cx="336.9" cy="59.4" r="1.9" fill="#880a1c" stroke="#1a1a1a" stroke-width="0.6"/><circle cx="336.9" cy="59.6" r="1.9" fill="#880a1c" stroke="#1a1a1a" stroke-width="0.6"/><circle cx="336.9" cy="87.3" r="1.9" fill="#880a1c" stroke="#1a1a1a" stroke-width="0.6"/><circle cx="336.9" cy="113.8" r="1.9" fill="#880a1c" stroke="#1a1a1a" stroke-width="0.6"/><circle cx="336.9" cy="125.9" r="1.9" fill="#880a1c" stroke="#1a1a1a" stroke-width="0.6"/><circle cx="336.9" cy="131.2" r="1.9" fill="#880a1c" stroke="#1a1a1a" stroke-width="0.6"/><circle cx="336.9" cy="141.5" r="1.9" fill="#880a1c" stroke="#1a1a1a" stroke-width="0.6"/><circle cx="336.9" cy="151.8" r="1.9" fill="#880a1c" stroke="#1a1a1a" stroke-width="0.6"/><circle cx="355.1" cy="72.0" r="1.9" fill="#1f3b72" stroke="#1a1a1a" stroke-width="0.6"/><circle cx="355.1" cy="70.0" r="1.9" fill="#1f3b72" stroke="#1a1a1a" stroke-width="0.6"/><circle cx="355.1" cy="74.0" r="1.9" fill="#1f3b72" stroke="#1a1a1a" stroke-width="0.6"/><circle cx="355.1" cy="76.0" r="1.9" fill="#1f3b72" stroke="#1a1a1a" stroke-width="0.6"/><circle cx="355.1" cy="145.7" r="1.9" fill="#1f3b72" stroke="#1a1a1a" stroke-width="0.6"/><circle cx="355.1" cy="132.3" r="1.9" fill="#1f3b72" stroke="#1a1a1a" stroke-width="0.6"/><circle cx="355.1" cy="150.0" r="1.9" fill="#1f3b72" stroke="#1a1a1a" stroke-width="0.6"/><circle cx="355.1" cy="153.4" r="1.9" fill="#1f3b72" stroke="#1a1a1a" stroke-width="0.6"/><circle cx="355.1" cy="153.4" r="1.9" fill="#1f3b72" stroke="#1a1a1a" stroke-width="0.6"/><circle cx="355.1" cy="153.0" r="1.9" fill="#1f3b72" stroke="#1a1a1a" stroke-width="0.6"/><text x="300.4" y="213.4" font-size="8.0" text-anchor="start" textLength="56" lengthAdjust="spacingAndGlyphs" fill="#222" transform="rotate(-45 300.4 213.4)"><tspan>CXCR4</tspan><tspan font-size="5.28" dy="-3.60" fill="#333" stroke-width="0.05">dim</tspan><tspan dy="3.60">CD5</tspan><tspan font-size="5.28" dy="-3.60" fill="#333" stroke-width="0.05">bright</tspan></text><text x="318.0" y="213.6" font-size="8.0" text-anchor="start" textLength="56" lengthAdjust="spacingAndGlyphs" fill="#222" transform="rotate(-45 318.0 213.6)"><tspan>CXCR4</tspan><tspan font-size="5.28" dy="-3.60" fill="#333" stroke-width="0.05">bright</tspan><tspan dy="3.60">CD5</tspan><tspan font-size="5.28" dy="-3.60" fill="#333" stroke-width="0.05">dim</tspan></text><text x="380.8" y="18.1" font-size="12.6" font-weight="bold" textLength="8.6" lengthAdjust="spacingAndGlyphs">C</text><text x="425.5" y="29.1" font-size="7.0" text-anchor="middle" fill="#222">n=13 pairs</text><text x="446.3" y="41.3" font-size="5.8" text-anchor="middle" fill="#222">P&lt;0.0001</text><line x1="425.3" y1="42.7" x2="425.3" y2="162.7" stroke="#111" stroke-width="1.1"/><line x1="422.2" y1="45.40" x2="425.3" y2="45.40" stroke="#111" stroke-width="0.9"/><text x="419.4" y="47.80" font-size="6.9" text-anchor="end" fill="#222">8</text><line x1="422.2" y1="74.60" x2="425.3" y2="74.60" stroke="#111" stroke-width="0.9"/><text x="419.4" y="77.00" font-size="6.9" text-anchor="end" fill="#222">6</text><line x1="422.2" y1="103.80" x2="425.3" y2="103.80" stroke="#111" stroke-width="0.9"/><text x="419.4" y="106.20" font-size="6.9" text-anchor="end" fill="#222">4</text><line x1="422.2" y1="133.00" x2="425.3" y2="133.00" stroke="#111" stroke-width="0.9"/><text x="419.4" y="135.40" font-size="6.9" text-anchor="end" fill="#222">2</text><text x="419.4" y="164.60" font-size="6.9" text-anchor="end" fill="#222">0</text><line x1="424.75" y1="162.7" x2="467.5" y2="162.7" stroke="#111" stroke-width="1.1"/><line x1="435.5" y1="162.7" x2="435.5" y2="165.8" stroke="#111" stroke-width="0.9"/><line x1="456.3" y1="162.7" x2="456.3" y2="165.8" stroke="#111" stroke-width="0.9"/><text transform="translate(409.9 102.4) rotate(-90)" font-size="8.5" text-anchor="middle" fill="#222" textLength="91" lengthAdjust="spacingAndGlyphs">Relative TRAF4 protein levels</text><line x1="435.5" y1="48.4" x2="456.7" y2="69.1" stroke="#111" stroke-width="0.95"/><line x1="435.5" y1="53.9" x2="456.7" y2="81.5" stroke="#111" stroke-width="0.95"/><line x1="435.5" y1="63.2" x2="456.7" y2="99.8" stroke="#111" stroke-width="0.95"/><line x1="435.5" y1="65.5" x2="456.7" y2="104.2" stroke="#111" stroke-width="0.95"/><line x1="435.5" y1="67.3" x2="456.7" y2="86.2" stroke="#111" stroke-width="0.95"/><line x1="435.5" y1="76.5" x2="456.7" y2="92.3" stroke="#111" stroke-width="0.95"/><line x1="435.5" y1="78.7" x2="456.7" y2="86.5" stroke="#111" stroke-width="0.95"/><line x1="435.5" y1="81.2" x2="456.7" y2="91.1" stroke="#111" stroke-width="0.95"/><line x1="435.5" y1="92.0" x2="456.7" y2="108.1" stroke="#111" stroke-width="0.95"/><line x1="435.5" y1="96.2" x2="456.7" y2="108.1" stroke="#111" stroke-width="0.95"/><line x1="435.5" y1="97.8" x2="456.7" y2="110.1" stroke="#111" stroke-width="0.95"/><line x1="435.5" y1="99.4" x2="456.7" y2="110.1" stroke="#111" stroke-width="0.95"/><line x1="435.5" y1="101.4" x2="456.7" y2="114.5" stroke="#111" stroke-width="0.95"/><circle cx="435.5" cy="48.4" r="1.9" fill="#880a1c" stroke="#1a1a1a" stroke-width="0.6"/><circle cx="435.5" cy="53.9" r="1.9" fill="#880a1c" stroke="#1a1a1a" stroke-width="0.6"/><circle cx="435.5" cy="63.2" r="1.9" fill="#880a1c" stroke="#1a1a1a" stroke-width="0.6"/><circle cx="435.5" cy="65.5" r="1.9" fill="#880a1c" stroke="#1a1a1a" stroke-width="0.6"/><circle cx="435.5" cy="67.3" r="1.9" fill="#880a1c" stroke="#1a1a1a" stroke-width="0.6"/><circle cx="435.5" cy="76.5" r="1.9" fill="#880a1c" stroke="#1a1a1a" stroke-width="0.6"/><circle cx="435.5" cy="78.7" r="1.9" fill="#880a1c" stroke="#1a1a1a" stroke-width="0.6"/><circle cx="435.5" cy="81.2" r="1.9" fill="#880a1c" stroke="#1a1a1a" stroke-width="0.6"/><circle cx="435.5" cy="92.0" r="1.9" fill="#880a1c" stroke="#1a1a1a" stroke-width="0.6"/><circle cx="435.5" cy="96.2" r="1.9" fill="#880a1c" stroke="#1a1a1a" stroke-width="0.6"/><circle cx="435.5" cy="97.8" r="1.9" fill="#880a1c" stroke="#1a1a1a" stroke-width="0.6"/><circle cx="435.5" cy="99.4" r="1.9" fill="#880a1c" stroke="#1a1a1a" stroke-width="0.6"/><circle cx="435.5" cy="101.4" r="1.9" fill="#880a1c" stroke="#1a1a1a" stroke-width="0.6"/><circle cx="456.7" cy="69.1" r="1.9" fill="#1f3b72" stroke="#1a1a1a" stroke-width="0.6"/><circle cx="456.7" cy="81.5" r="1.9" fill="#1f3b72" stroke="#1a1a1a" stroke-width="0.6"/><circle cx="456.7" cy="99.8" r="1.9" fill="#1f3b72" stroke="#1a1a1a" stroke-width="0.6"/><circle cx="456.7" cy="104.2" r="1.9" fill="#1f3b72" stroke="#1a1a1a" stroke-width="0.6"/><circle cx="456.7" cy="86.2" r="1.9" fill="#1f3b72" stroke="#1a1a1a" stroke-width="0.6"/><circle cx="456.7" cy="92.3" r="1.9" fill="#1f3b72" stroke="#1a1a1a" stroke-width="0.6"/><circle cx="456.7" cy="86.5" r="1.9" fill="#1f3b72" stroke="#1a1a1a" stroke-width="0.6"/><circle cx="456.7" cy="91.1" r="1.9" fill="#1f3b72" stroke="#1a1a1a" stroke-width="0.6"/><circle cx="456.7" cy="108.1" r="1.9" fill="#1f3b72" stroke="#1a1a1a" stroke-width="0.6"/><circle cx="456.7" cy="108.1" r="1.9" fill="#1f3b72" stroke="#1a1a1a" stroke-width="0.6"/><circle cx="456.7" cy="110.1" r="1.9" fill="#1f3b72" stroke="#1a1a1a" stroke-width="0.6"/><circle cx="456.7" cy="110.1" r="1.9" fill="#1f3b72" stroke="#1a1a1a" stroke-width="0.6"/><circle cx="456.7" cy="114.5" r="1.9" fill="#1f3b72" stroke="#1a1a1a" stroke-width="0.6"/><text x="398.4" y="213.4" font-size="8.0" text-anchor="start" textLength="56" lengthAdjust="spacingAndGlyphs" fill="#222" transform="rotate(-45 398.4 213.4)"><tspan>CXCR4</tspan><tspan font-size="5.28" dy="-3.60" fill="#333" stroke-width="0.05">dim</tspan><tspan dy="3.60">CD5</tspan><tspan font-size="5.28" dy="-3.60" fill="#333" stroke-width="0.05">bright</tspan></text><text x="419.2" y="213.4" font-size="8.0" text-anchor="start" textLength="56" lengthAdjust="spacingAndGlyphs" fill="#222" transform="rotate(-45 419.2 213.4)"><tspan>CXCR4</tspan><tspan font-size="5.28" dy="-3.60" fill="#333" stroke-width="0.05">bright</tspan><tspan dy="3.60">CD5</tspan><tspan font-size="5.28" dy="-3.60" fill="#333" stroke-width="0.05">dim</tspan></text><text x="7.4" y="241.1" font-size="12.4" font-weight="bold" textLength="9.4" lengthAdjust="spacingAndGlyphs">D</text><text x="23.2" y="241.3" font-size="11.2" font-weight="bold">i</text><text x="140.6" y="253.6" font-size="6.6" font-style="italic" text-anchor="middle" fill="#222">CLL 30</text><text x="232.9" y="253.6" font-size="6.6" font-style="italic" text-anchor="middle" fill="#222">CLL 31</text><line x1="101.9" y1="258.5" x2="178.5" y2="258.5" stroke="#222" stroke-width="1"/><line x1="195" y1="258.5" x2="270.8" y2="258.5" stroke="#222" stroke-width="1"/><text x="88.3" y="308.2" font-size="7.8" text-anchor="start" textLength="56" lengthAdjust="spacingAndGlyphs" fill="#222" transform="rotate(-45 88.3 308.2)"><tspan>CXCR4</tspan><tspan font-size="5.15" dy="-3.51" fill="#333" stroke-width="0.05">dim</tspan><tspan dy="3.51">CD5</tspan><tspan font-size="5.15" dy="-3.51" fill="#333" stroke-width="0.05">bright</tspan></text><text x="110.9" y="308.2" font-size="7.8" text-anchor="start" textLength="47" lengthAdjust="spacingAndGlyphs" fill="#222" transform="rotate(-45 110.9 308.2)"><tspan>CXCR4</tspan><tspan font-size="5.15" dy="-3.51" fill="#333" stroke-width="0.05">int</tspan><tspan dy="3.51">CD5</tspan><tspan font-size="5.15" dy="-3.51" fill="#333" stroke-width="0.05">int</tspan></text><text x="137.5" y="308.2" font-size="7.8" text-anchor="start" textLength="55" lengthAdjust="spacingAndGlyphs" fill="#222" transform="rotate(-45 137.5 308.2)"><tspan>CXCR4</tspan><tspan font-size="5.15" dy="-3.51" fill="#333" stroke-width="0.05">bright</tspan><tspan dy="3.51">CD5</tspan><tspan font-size="5.15" dy="-3.51" fill="#333" stroke-width="0.05">dim</tspan></text><text x="180.1" y="308.6" font-size="7.8" text-anchor="start" textLength="56" lengthAdjust="spacingAndGlyphs" fill="#222" transform="rotate(-45 180.1 308.6)"><tspan>CXCR4</tspan><tspan font-size="5.15" dy="-3.51" fill="#333" stroke-width="0.05">dim</tspan><tspan dy="3.51">CD5</tspan><tspan font-size="5.15" dy="-3.51" fill="#333" stroke-width="0.05">bright</tspan></text><text x="202.6" y="308.6" font-size="7.8" text-anchor="start" textLength="47" lengthAdjust="spacingAndGlyphs" fill="#222" transform="rotate(-45 202.6 308.6)"><tspan>CXCR4</tspan><tspan font-size="5.15" dy="-3.51" fill="#333" stroke-width="0.05">int</tspan><tspan dy="3.51">CD5</tspan><tspan font-size="5.15" dy="-3.51" fill="#333" stroke-width="0.05">int</tspan></text><text x="228.7" y="308.2" font-size="7.8" text-anchor="start" textLength="55" lengthAdjust="spacingAndGlyphs" fill="#222" transform="rotate(-45 228.7 308.2)"><tspan>CXCR4</tspan><tspan font-size="5.15" dy="-3.51" fill="#333" stroke-width="0.05">bright</tspan><tspan dy="3.51">CD5</tspan><tspan font-size="5.15" dy="-3.51" fill="#333" stroke-width="0.05">dim</tspan></text><rect x="72.6" y="312.9" width="163.7" height="21.3" rx="0.8" fill="#f9f9f9" stroke="#5a5a5a" stroke-width="1"/><rect x="72.6" y="336.8" width="163.7" height="19.4" rx="0.8" fill="#f9f9f9" stroke="#222" stroke-width="1.1"/><g filter="url(#blur1)"><rect x="78.4" y="326.8" width="17.4" height="4.0" rx="1.8" fill="#202020"/><ellipse cx="81.0" cy="328.8" rx="2.6" ry="2.4" fill="#000"/><ellipse cx="93.4" cy="328.6" rx="2.6" ry="2.4" fill="#000"/><rect x="168.8" y="325.9" width="17.2" height="5.6" rx="2.6" fill="#000"/><ellipse cx="171.6" cy="328.7" rx="2.9" ry="3.0" fill="#000"/><ellipse cx="183.4" cy="328.7" rx="2.9" ry="3.0" fill="#000"/><rect x="193.6" y="325.2" width="15.8" height="2.4" rx="1" fill="#d6d6d6"/></g><g filter="url(#blur2)"><polygon points="74.5,344.1 86,344.8 96.5,346.6 96.5,349.0 86,347.4 74.5,346.6" fill="#8e8e8e"/><rect x="100.0" y="345.70" width="18.80" height="3.0" rx="1.2" fill="#868686"/><rect x="122.4" y="347.80" width="18.60" height="3.2" rx="1.2" fill="#585858"/><rect x="146" y="347.20" width="13.00" height="2.0" rx="1.2" fill="#ececec"/><rect x="165.2" y="346.90" width="17.60" height="2.8" rx="1.2" fill="#8c8c8c"/><rect x="188.4" y="346.00" width="20.00" height="3.2" rx="1.2" fill="#7c7c7c"/><rect x="213.4" y="344.20" width="20.60" height="3.2" rx="1.2" fill="#7e7e7e"/></g><text x="33.9" y="329.8" font-size="7.4" fill="#222" textLength="33.4" lengthAdjust="spacingAndGlyphs">TRAF4 (50)</text><text x="23.9" y="348.9" font-size="7.4" fill="#222" textLength="43.4" lengthAdjust="spacingAndGlyphs">Histon H3 (17)</text><text x="285.0" y="240.6" font-size="11.2" font-weight="bold">ii</text><text x="298.8" y="253.8" font-size="7.0" fill="#222">n=5</text><line x1="317.2" y1="258.6" x2="317.2" y2="379.3" stroke="#111" stroke-width="1.35"/><line x1="314.2" y1="261.50" x2="317.2" y2="261.50" stroke="#111" stroke-width="0.9"/><text x="310.3" y="263.90" font-size="6.8" text-anchor="end" fill="#222">500</text><line x1="314.2" y1="284.94" x2="317.2" y2="284.94" stroke="#111" stroke-width="0.9"/><text x="310.3" y="287.34" font-size="6.8" text-anchor="end" fill="#222">400</text><line x1="314.2" y1="308.38" x2="317.2" y2="308.38" stroke="#111" stroke-width="0.9"/><text x="310.3" y="310.78" font-size="6.8" text-anchor="end" fill="#222">300</text><line x1="314.2" y1="331.82" x2="317.2" y2="331.82" stroke="#111" stroke-width="0.9"/><text x="310.3" y="334.22" font-size="6.8" text-anchor="end" fill="#222">200</text><line x1="314.2" y1="355.26" x2="317.2" y2="355.26" stroke="#111" stroke-width="0.9"/><text x="310.3" y="357.66" font-size="6.8" text-anchor="end" fill="#222">100</text><line x1="314.2" y1="378.70" x2="317.2" y2="378.70" stroke="#111" stroke-width="0.9"/><text x="310.3" y="381.10" font-size="6.8" text-anchor="end" fill="#222">0</text><line x1="316.65" y1="378.7" x2="360.9" y2="378.7" stroke="#111" stroke-width="1.1"/><line x1="323.4" y1="378.7" x2="323.4" y2="381.6" stroke="#111" stroke-width="0.9"/><line x1="338.8" y1="378.7" x2="338.8" y2="381.6" stroke="#111" stroke-width="0.9"/><line x1="353.0" y1="378.7" x2="353.0" y2="381.6" stroke="#111" stroke-width="0.9"/><rect x="318.9" y="295.3" width="9.2" height="83.4" fill="#a6031f"/><rect x="334.2" y="342.1" width="9.2" height="36.6" fill="#d38a7d"/><rect x="348.6" y="358.1" width="9.0" height="20.6" fill="#27457f"/><line x1="323.6" y1="269.8" x2="323.6" y2="295.3" stroke="#111" stroke-width="0.9"/><line x1="321.1" y1="269.8" x2="326.1" y2="269.8" stroke="#111" stroke-width="0.9"/><line x1="338.8" y1="322.6" x2="338.8" y2="342.1" stroke="#111" stroke-width="0.9"/><line x1="336.3" y1="322.6" x2="341.3" y2="322.6" stroke="#111" stroke-width="0.9"/><line x1="353.0" y1="349.3" x2="353.0" y2="358.1" stroke="#111" stroke-width="0.9"/><line x1="350.5" y1="349.3" x2="355.5" y2="349.3" stroke="#111" stroke-width="0.9"/><polyline points="324.1,264.3 324.1,261.1 358.4,261.1 358.4,264.3" fill="none" stroke="#111" stroke-width="1.15"/><text x="340.9" y="256.4" font-size="5.9" text-anchor="middle" fill="#222">P=0.03</text><text transform="translate(294.0 318.3) rotate(-90)" font-size="8.6" text-anchor="middle" fill="#222" textLength="102" lengthAdjust="spacingAndGlyphs">Normalized TRAF4 protein levels</text><text x="286.8" y="429.3" font-size="8.0" text-anchor="start" textLength="55.5" lengthAdjust="spacingAndGlyphs" fill="#222" transform="rotate(-45 286.8 429.3)"><tspan>CXCR4</tspan><tspan font-size="5.28" dy="-3.60" fill="#333" stroke-width="0.05">dim</tspan><tspan dy="3.60">CD5</tspan><tspan font-size="5.28" dy="-3.60" fill="#333" stroke-width="0.05">bright</tspan></text><text x="308.0" y="422.6" font-size="8.0" text-anchor="start" textLength="46.5" lengthAdjust="spacingAndGlyphs" fill="#222" transform="rotate(-45 308.0 422.6)"><tspan>CXCR4</tspan><tspan font-size="5.28" dy="-3.60" fill="#333" stroke-width="0.05">int</tspan><tspan dy="3.60">CD5</tspan><tspan font-size="5.28" dy="-3.60" fill="#333" stroke-width="0.05">int</tspan></text><text x="316.4" y="429.3" font-size="8.0" text-anchor="start" textLength="55.5" lengthAdjust="spacingAndGlyphs" fill="#222" transform="rotate(-45 316.4 429.3)"><tspan>CXCR4</tspan><tspan font-size="5.28" dy="-3.60" fill="#333" stroke-width="0.05">bright</tspan><tspan dy="3.60">CD5</tspan><tspan font-size="5.28" dy="-3.60" fill="#333" stroke-width="0.05">dim</tspan></text><text x="375.2" y="241.0" font-size="11.2" font-weight="bold">iii</text><line x1="387.2" y1="254" x2="387.2" y2="359.4" stroke="#111" stroke-width="1.5"/><polygon points="387.2,248.1 383.8,255.8 390.6,255.8" fill="#111"/><line x1="386.5" y1="359.4" x2="506" y2="359.4" stroke="#111" stroke-width="1.5"/><polygon points="512.2,359.4 504.5,356 504.5,362.8" fill="#111"/><text transform="translate(378.4 302.3) rotate(-90)" font-size="8.8" text-anchor="middle" fill="#222" textLength="13.4" lengthAdjust="spacingAndGlyphs">CD5</text><text x="437.9" y="374.4" font-size="8.8" fill="#222" textLength="20.6" lengthAdjust="spacingAndGlyphs">CXCR4</text><rect x="405.4" y="255.8" width="94.2" height="85.5" fill="none" stroke="#999" stroke-width="0.7"/><line x1="403.2" y1="263.90" x2="405.4" y2="263.90" stroke="#333" stroke-width="0.8"/><text x="391.6" y="266.20" font-size="6.5" fill="#222">10<tspan font-size="4.6" dy="-2.7" stroke-width="0.05">5</tspan></text><line x1="403.2" y1="283.15" x2="405.4" y2="283.15" stroke="#333" stroke-width="0.8"/><text x="391.6" y="285.45" font-size="6.5" fill="#222">10<tspan font-size="4.6" dy="-2.7" stroke-width="0.05">4</tspan></text><line x1="403.2" y1="302.40" x2="405.4" y2="302.40" stroke="#333" stroke-width="0.8"/><text x="391.6" y="304.70" font-size="6.5" fill="#222">10<tspan font-size="4.6" dy="-2.7" stroke-width="0.05">3</tspan></text><line x1="403.2" y1="321.65" x2="405.4" y2="321.65" stroke="#333" stroke-width="0.8"/><text x="391.6" y="323.95" font-size="6.5" fill="#222">10<tspan font-size="4.6" dy="-2.7" stroke-width="0.05">2</tspan></text><line x1="403.2" y1="340.90" x2="405.4" y2="340.90" stroke="#333" stroke-width="0.8"/><text x="391.6" y="343.20" font-size="6.5" fill="#222">10<tspan font-size="4.6" dy="-2.7" stroke-width="0.05">1</tspan></text><line x1="405.60" y1="341.1" x2="405.60" y2="343.2" stroke="#333" stroke-width="0.8"/><text x="401.40" y="352.7" font-size="6.7" fill="#222">10<tspan font-size="4.7" dy="-2.8" stroke-width="0.05">0</tspan></text><line x1="422.82" y1="341.1" x2="422.82" y2="343.2" stroke="#333" stroke-width="0.8"/><text x="418.62" y="352.7" font-size="6.7" fill="#222">10<tspan font-size="4.7" dy="-2.8" stroke-width="0.05">1</tspan></text><line x1="440.04" y1="341.1" x2="440.04" y2="343.2" stroke="#333" stroke-width="0.8"/><text x="435.84" y="352.7" font-size="6.7" fill="#222">10<tspan font-size="4.7" dy="-2.8" stroke-width="0.05">2</tspan></text><line x1="457.26" y1="341.1" x2="457.26" y2="343.2" stroke="#333" stroke-width="0.8"/><text x="453.06" y="352.7" font-size="6.7" fill="#222">10<tspan font-size="4.7" dy="-2.8" stroke-width="0.05">3</tspan></text><line x1="474.48" y1="341.1" x2="474.48" y2="343.2" stroke="#333" stroke-width="0.8"/><text x="470.28" y="352.7" font-size="6.7" fill="#222">10<tspan font-size="4.7" dy="-2.8" stroke-width="0.05">4</tspan></text><line x1="491.70" y1="341.1" x2="491.70" y2="343.2" stroke="#333" stroke-width="0.8"/><text x="487.50" y="352.7" font-size="6.7" fill="#222">10<tspan font-size="4.7" dy="-2.8" stroke-width="0.05">5</tspan></text><line x1="404.3" y1="277.36" x2="405.4" y2="277.36" stroke="#666" stroke-width="0.45"/><line x1="404.3" y1="273.97" x2="405.4" y2="273.97" stroke="#666" stroke-width="0.45"/><line x1="404.3" y1="271.56" x2="405.4" y2="271.56" stroke="#666" stroke-width="0.45"/><line x1="404.3" y1="269.69" x2="405.4" y2="269.69" stroke="#666" stroke-width="0.45"/><line x1="404.3" y1="268.17" x2="405.4" y2="268.17" stroke="#666" stroke-width="0.45"/><line x1="404.3" y1="266.88" x2="405.4" y2="266.88" stroke="#666" stroke-width="0.45"/><line x1="404.3" y1="265.77" x2="405.4" y2="265.77" stroke="#666" stroke-width="0.45"/><line x1="404.3" y1="264.78" x2="405.4" y2="264.78" stroke="#666" stroke-width="0.45"/><line x1="404.3" y1="296.61" x2="405.4" y2="296.61" stroke="#666" stroke-width="0.45"/><line x1="404.3" y1="293.22" x2="405.4" y2="293.22" stroke="#666" stroke-width="0.45"/><line x1="404.3" y1="290.81" x2="405.4" y2="290.81" stroke="#666" stroke-width="0.45"/><line x1="404.3" y1="288.94" x2="405.4" y2="288.94" stroke="#666" stroke-width="0.45"/><line x1="404.3" y1="287.42" x2="405.4" y2="287.42" stroke="#666" stroke-width="0.45"/><line x1="404.3" y1="286.13" x2="405.4" y2="286.13" stroke="#666" stroke-width="0.45"/><line x1="404.3" y1="285.02" x2="405.4" y2="285.02" stroke="#666" stroke-width="0.45"/><line x1="404.3" y1="284.03" x2="405.4" y2="284.03" stroke="#666" stroke-width="0.45"/><line x1="404.3" y1="315.86" x2="405.4" y2="315.86" stroke="#666" stroke-width="0.45"/><line x1="404.3" y1="312.47" x2="405.4" y2="312.47" stroke="#666" stroke-width="0.45"/><line x1="404.3" y1="310.06" x2="405.4" y2="310.06" stroke="#666" stroke-width="0.45"/><line x1="404.3" y1="308.19" x2="405.4" y2="308.19" stroke="#666" stroke-width="0.45"/><line x1="404.3" y1="306.67" x2="405.4" y2="306.67" stroke="#666" stroke-width="0.45"/><line x1="404.3" y1="305.38" x2="405.4" y2="305.38" stroke="#666" stroke-width="0.45"/><line x1="404.3" y1="304.27" x2="405.4" y2="304.27" stroke="#666" stroke-width="0.45"/><line x1="404.3" y1="303.28" x2="405.4" y2="303.28" stroke="#666" stroke-width="0.45"/><line x1="404.3" y1="335.11" x2="405.4" y2="335.11" stroke="#666" stroke-width="0.45"/><line x1="404.3" y1="331.72" x2="405.4" y2="331.72" stroke="#666" stroke-width="0.45"/><line x1="404.3" y1="329.31" x2="405.4" y2="329.31" stroke="#666" stroke-width="0.45"/><line x1="404.3" y1="327.44" x2="405.4" y2="327.44" stroke="#666" stroke-width="0.45"/><line x1="404.3" y1="325.92" x2="405.4" y2="325.92" stroke="#666" stroke-width="0.45"/><line x1="404.3" y1="324.63" x2="405.4" y2="324.63" stroke="#666" stroke-width="0.45"/><line x1="404.3" y1="323.52" x2="405.4" y2="323.52" stroke="#666" stroke-width="0.45"/><line x1="404.3" y1="322.53" x2="405.4" y2="322.53" stroke="#666" stroke-width="0.45"/><line x1="410.78" y1="341.1" x2="410.78" y2="342.3" stroke="#666" stroke-width="0.45"/><line x1="413.82" y1="341.1" x2="413.82" y2="342.3" stroke="#666" stroke-width="0.45"/><line x1="415.97" y1="341.1" x2="415.97" y2="342.3" stroke="#666" stroke-width="0.45"/><line x1="417.64" y1="341.1" x2="417.64" y2="342.3" stroke="#666" stroke-width="0.45"/><line x1="419.00" y1="341.1" x2="419.00" y2="342.3" stroke="#666" stroke-width="0.45"/><line x1="420.15" y1="341.1" x2="420.15" y2="342.3" stroke="#666" stroke-width="0.45"/><line x1="421.15" y1="341.1" x2="421.15" y2="342.3" stroke="#666" stroke-width="0.45"/><line x1="422.03" y1="341.1" x2="422.03" y2="342.3" stroke="#666" stroke-width="0.45"/><line x1="428.00" y1="341.1" x2="428.00" y2="342.3" stroke="#666" stroke-width="0.45"/><line x1="431.04" y1="341.1" x2="431.04" y2="342.3" stroke="#666" stroke-width="0.45"/><line x1="433.19" y1="341.1" x2="433.19" y2="342.3" stroke="#666" stroke-width="0.45"/><line x1="434.86" y1="341.1" x2="434.86" y2="342.3" stroke="#666" stroke-width="0.45"/><line x1="436.22" y1="341.1" x2="436.22" y2="342.3" stroke="#666" stroke-width="0.45"/><line x1="437.37" y1="341.1" x2="437.37" y2="342.3" stroke="#666" stroke-width="0.45"/><line x1="438.37" y1="341.1" x2="438.37" y2="342.3" stroke="#666" stroke-width="0.45"/><line x1="439.25" y1="341.1" x2="439.25" y2="342.3" stroke="#666" stroke-width="0.45"/><line x1="445.22" y1="341.1" x2="445.22" y2="342.3" stroke="#666" stroke-width="0.45"/><line x1="448.26" y1="341.1" x2="448.26" y2="342.3" stroke="#666" stroke-width="0.45"/><line x1="450.41" y1="341.1" x2="450.41" y2="342.3" stroke="#666" stroke-width="0.45"/><line x1="452.08" y1="341.1" x2="452.08" y2="342.3" stroke="#666" stroke-width="0.45"/><line x1="453.44" y1="341.1" x2="453.44" y2="342.3" stroke="#666" stroke-width="0.45"/><line x1="454.59" y1="341.1" x2="454.59" y2="342.3" stroke="#666" stroke-width="0.45"/><line x1="455.59" y1="341.1" x2="455.59" y2="342.3" stroke="#666" stroke-width="0.45"/><line x1="456.47" y1="341.1" x2="456.47" y2="342.3" stroke="#666" stroke-width="0.45"/><line x1="462.44" y1="341.1" x2="462.44" y2="342.3" stroke="#666" stroke-width="0.45"/><line x1="465.48" y1="341.1" x2="465.48" y2="342.3" stroke="#666" stroke-width="0.45"/><line x1="467.63" y1="341.1" x2="467.63" y2="342.3" stroke="#666" stroke-width="0.45"/><line x1="469.30" y1="341.1" x2="469.30" y2="342.3" stroke="#666" stroke-width="0.45"/><line x1="470.66" y1="341.1" x2="470.66" y2="342.3" stroke="#666" stroke-width="0.45"/><line x1="471.81" y1="341.1" x2="471.81" y2="342.3" stroke="#666" stroke-width="0.45"/><line x1="472.81" y1="341.1" x2="472.81" y2="342.3" stroke="#666" stroke-width="0.45"/><line x1="473.69" y1="341.1" x2="473.69" y2="342.3" stroke="#666" stroke-width="0.45"/><line x1="479.66" y1="341.1" x2="479.66" y2="342.3" stroke="#666" stroke-width="0.45"/><line x1="482.70" y1="341.1" x2="482.70" y2="342.3" stroke="#666" stroke-width="0.45"/><line x1="484.85" y1="341.1" x2="484.85" y2="342.3" stroke="#666" stroke-width="0.45"/><line x1="486.52" y1="341.1" x2="486.52" y2="342.3" stroke="#666" stroke-width="0.45"/><line x1="487.88" y1="341.1" x2="487.88" y2="342.3" stroke="#666" stroke-width="0.45"/><line x1="489.03" y1="341.1" x2="489.03" y2="342.3" stroke="#666" stroke-width="0.45"/><line x1="490.03" y1="341.1" x2="490.03" y2="342.3" stroke="#666" stroke-width="0.45"/><line x1="490.91" y1="341.1" x2="490.91" y2="342.3" stroke="#666" stroke-width="0.45"/><rect x="424.0" y="297.5" width="0.7" height="0.7" fill="#999"/><rect x="431.7" y="295.5" width="0.7" height="0.7" fill="#c4c4c4"/><rect x="424.9" y="298.0" width="0.7" height="0.7" fill="#bbb"/><rect x="419.5" y="296.5" width="0.7" height="0.7" fill="#888"/><rect x="426.9" y="302.3" width="0.7" height="0.7" fill="#c4c4c4"/><rect x="418.1" y="292.2" width="0.7" height="0.7" fill="#7a7a7a"/><rect x="418.0" y="302.6" width="0.7" height="0.7" fill="#7a7a7a"/><rect x="427.9" y="286.9" width="0.7" height="0.7" fill="#999"/><rect x="432.7" y="305.8" width="0.7" height="0.7" fill="#bbb"/><rect x="427.3" y="298.6" width="0.7" height="0.7" fill="#888"/><rect x="419.1" y="286.3" width="0.7" height="0.7" fill="#999"/><rect x="425.2" y="287.2" width="0.7" height="0.7" fill="#7a7a7a"/><rect x="419.6" y="291.0" width="0.7" height="0.7" fill="#bbb"/><rect x="417.0" y="295.5" width="0.7" height="0.7" fill="#888"/><rect x="423.8" y="303.3" width="0.7" height="0.7" fill="#aaa"/><rect x="425.1" y="299.1" width="0.7" height="0.7" fill="#bbb"/><rect x="424.7" y="299.6" width="0.7" height="0.7" fill="#bbb"/><rect x="424.0" y="291.7" width="0.7" height="0.7" fill="#7a7a7a"/><rect x="433.0" y="306.4" width="0.7" height="0.7" fill="#7a7a7a"/><rect x="430.4" y="300.5" width="0.7" height="0.7" fill="#c4c4c4"/><rect x="421.7" y="290.7" width="0.7" height="0.7" fill="#c4c4c4"/><rect x="421.3" y="287.4" width="0.7" height="0.7" fill="#c4c4c4"/><rect x="429.1" y="294.2" width="0.7" height="0.7" fill="#888"/><rect x="430.5" y="293.9" width="0.7" height="0.7" fill="#999"/><rect x="432.3" y="303.4" width="0.7" height="0.7" fill="#aaa"/><rect x="416.5" y="290.3" width="0.7" height="0.7" fill="#aaa"/><rect x="431.5" y="295.6" width="0.7" height="0.7" fill="#7a7a7a"/><rect x="432.7" y="294.1" width="0.7" height="0.7" fill="#888"/><rect x="417.7" y="298.9" width="0.7" height="0.7" fill="#999"/><rect x="429.3" y="291.5" width="0.7" height="0.7" fill="#bbb"/><rect x="417.9" y="292.8" width="0.7" height="0.7" fill="#bbb"/><rect x="432.4" y="301.5" width="0.7" height="0.7" fill="#7a7a7a"/><rect x="418.4" y="291.1" width="0.7" height="0.7" fill="#999"/><rect x="418.2" y="287.2" width="0.7" height="0.7" fill="#aaa"/><rect x="429.7" y="289.6" width="0.7" height="0.7" fill="#aaa"/><rect x="425.7" y="295.2" width="0.7" height="0.7" fill="#aaa"/><rect x="419.6" y="301.0" width="0.7" height="0.7" fill="#888"/><rect x="418.7" y="299.2" width="0.7" height="0.7" fill="#999"/><rect x="418.4" y="294.6" width="0.7" height="0.7" fill="#7a7a7a"/><rect x="420.0" y="291.5" width="0.7" height="0.7" fill="#999"/><rect x="432.5" y="302.5" width="0.7" height="0.7" fill="#bbb"/><rect x="421.5" y="304.1" width="0.7" height="0.7" fill="#888"/><rect x="420.0" y="294.1" width="0.7" height="0.7" fill="#c4c4c4"/><rect x="430.6" y="299.2" width="0.7" height="0.7" fill="#7a7a7a"/><rect x="418.2" y="306.3" width="0.7" height="0.7" fill="#c4c4c4"/><rect x="420.0" y="291.3" width="0.7" height="0.7" fill="#aaa"/><rect x="429.2" y="292.7" width="0.7" height="0.7" fill="#888"/><rect x="421.4" y="287.5" width="0.7" height="0.7" fill="#c4c4c4"/><rect x="418.0" y="297.9" width="0.7" height="0.7" fill="#888"/><rect x="420.5" y="298.3" width="0.7" height="0.7" fill="#999"/><rect x="422.6" y="295.3" width="0.7" height="0.7" fill="#bbb"/><rect x="432.3" y="295.9" width="0.7" height="0.7" fill="#bbb"/><rect x="426.0" y="303.8" width="0.7" height="0.7" fill="#999"/><rect x="419.5" y="289.2" width="0.7" height="0.7" fill="#bbb"/><rect x="431.5" y="302.8" width="0.7" height="0.7" fill="#bbb"/><rect x="420.6" y="289.9" width="0.7" height="0.7" fill="#7a7a7a"/><rect x="428.7" y="305.3" width="0.7" height="0.7" fill="#999"/><rect x="419.7" y="305.5" width="0.7" height="0.7" fill="#bbb"/><rect x="431.1" y="298.4" width="0.7" height="0.7" fill="#aaa"/><rect x="423.5" y="288.1" width="0.7" height="0.7" fill="#999"/><rect x="417.1" y="305.7" width="0.7" height="0.7" fill="#999"/><rect x="420.4" y="300.4" width="0.7" height="0.7" fill="#888"/><rect x="420.7" y="302.9" width="0.7" height="0.7" fill="#999"/><rect x="426.3" y="292.0" width="0.7" height="0.7" fill="#bbb"/><rect x="419.4" y="300.8" width="0.7" height="0.7" fill="#999"/><rect x="417.6" y="290.7" width="0.7" height="0.7" fill="#bbb"/><rect x="425.7" y="303.5" width="0.7" height="0.7" fill="#999"/><rect x="426.6" y="291.7" width="0.7" height="0.7" fill="#888"/><rect x="431.6" y="290.2" width="0.7" height="0.7" fill="#bbb"/><rect x="416.8" y="291.5" width="0.7" height="0.7" fill="#aaa"/><rect x="423.9" y="287.2" width="0.7" height="0.7" fill="#bbb"/><rect x="419.4" y="293.6" width="0.7" height="0.7" fill="#bbb"/><rect x="425.9" y="288.7" width="0.7" height="0.7" fill="#bbb"/><rect x="422.5" y="304.3" width="0.7" height="0.7" fill="#c4c4c4"/><rect x="432.7" y="299.5" width="0.7" height="0.7" fill="#c4c4c4"/><rect x="427.9" y="298.0" width="0.7" height="0.7" fill="#999"/><rect x="418.8" y="286.7" width="0.7" height="0.7" fill="#bbb"/><rect x="416.8" y="304.7" width="0.7" height="0.7" fill="#999"/><rect x="428.1" y="305.7" width="0.7" height="0.7" fill="#888"/><rect x="416.9" y="299.0" width="0.7" height="0.7" fill="#bbb"/><rect x="424.5" y="301.0" width="0.7" height="0.7" fill="#bbb"/><rect x="421.8" y="306.5" width="0.7" height="0.7" fill="#7a7a7a"/><rect x="417.7" y="297.2" width="0.7" height="0.7" fill="#7a7a7a"/><rect x="428.7" y="304.5" width="0.7" height="0.7" fill="#c4c4c4"/><rect x="428.7" y="300.4" width="0.7" height="0.7" fill="#aaa"/><rect x="429.6" y="304.8" width="0.7" height="0.7" fill="#aaa"/><rect x="422.3" y="300.0" width="0.7" height="0.7" fill="#aaa"/><rect x="431.4" y="303.9" width="0.7" height="0.7" fill="#888"/><rect x="423.4" y="302.2" width="0.7" height="0.7" fill="#7a7a7a"/><rect x="430.7" y="297.7" width="0.7" height="0.7" fill="#888"/><rect x="426.8" y="293.8" width="0.7" height="0.7" fill="#999"/><rect x="426.1" y="298.5" width="0.7" height="0.7" fill="#c4c4c4"/><rect x="417.8" y="299.1" width="0.7" height="0.7" fill="#aaa"/><rect x="432.9" y="304.0" width="0.7" height="0.7" fill="#888"/><rect x="428.5" y="294.0" width="0.7" height="0.7" fill="#bbb"/><rect x="428.6" y="297.9" width="0.7" height="0.7" fill="#888"/><rect x="423.8" y="303.2" width="0.7" height="0.7" fill="#c4c4c4"/><rect x="417.9" y="301.4" width="0.7" height="0.7" fill="#c4c4c4"/><rect x="417.0" y="298.3" width="0.7" height="0.7" fill="#999"/><rect x="424.4" y="290.7" width="0.7" height="0.7" fill="#aaa"/><rect x="428.0" y="296.2" width="0.7" height="0.7" fill="#7a7a7a"/><rect x="426.6" y="304.9" width="0.7" height="0.7" fill="#aaa"/><rect x="420.7" y="286.2" width="0.7" height="0.7" fill="#7a7a7a"/><rect x="421.5" y="299.9" width="0.7" height="0.7" fill="#999"/><rect x="419.8" y="289.5" width="0.7" height="0.7" fill="#c4c4c4"/><rect x="431.4" y="299.5" width="0.7" height="0.7" fill="#aaa"/><rect x="423.8" y="304.3" width="0.7" height="0.7" fill="#999"/><rect x="421.9" y="299.7" width="0.7" height="0.7" fill="#999"/><rect x="419.8" y="294.8" width="0.7" height="0.7" fill="#c4c4c4"/><rect x="429.8" y="304.7" width="0.7" height="0.7" fill="#7a7a7a"/><rect x="431.0" y="293.9" width="0.7" height="0.7" fill="#7a7a7a"/><rect x="426.1" y="292.5" width="0.7" height="0.7" fill="#aaa"/><rect x="418.7" y="296.2" width="0.7" height="0.7" fill="#bbb"/><rect x="430.3" y="303.4" width="0.7" height="0.7" fill="#bbb"/><rect x="428.2" y="305.5" width="0.7" height="0.7" fill="#7a7a7a"/><rect x="421.1" y="289.5" width="0.7" height="0.7" fill="#bbb"/><rect x="423.9" y="291.6" width="0.7" height="0.7" fill="#aaa"/><rect x="420.0" y="294.5" width="0.7" height="0.7" fill="#aaa"/><rect x="426.8" y="296.1" width="0.7" height="0.7" fill="#888"/><rect x="421.7" y="303.2" width="0.7" height="0.7" fill="#c4c4c4"/><rect x="432.7" y="295.3" width="0.7" height="0.7" fill="#7a7a7a"/><rect x="417.7" y="286.6" width="0.7" height="0.7" fill="#aaa"/><rect x="430.9" y="286.9" width="0.7" height="0.7" fill="#bbb"/><rect x="428.2" y="297.7" width="0.7" height="0.7" fill="#888"/><rect x="421.6" y="302.2" width="0.7" height="0.7" fill="#999"/><rect x="416.8" y="288.8" width="0.7" height="0.7" fill="#bbb"/><rect x="424.0" y="286.5" width="0.7" height="0.7" fill="#7a7a7a"/><rect x="430.2" y="290.9" width="0.7" height="0.7" fill="#999"/><rect x="418.8" y="287.0" width="0.7" height="0.7" fill="#999"/><rect x="426.9" y="295.2" width="0.7" height="0.7" fill="#888"/><rect x="426.9" y="299.4" width="0.7" height="0.7" fill="#888"/><rect x="429.8" y="305.6" width="0.7" height="0.7" fill="#999"/><rect x="427.8" y="290.1" width="0.7" height="0.7" fill="#7a7a7a"/><rect x="424.3" y="289.7" width="0.7" height="0.7" fill="#999"/><rect x="416.7" y="295.7" width="0.7" height="0.7" fill="#aaa"/><rect x="428.3" y="289.7" width="0.7" height="0.7" fill="#bbb"/><rect x="421.0" y="293.1" width="0.7" height="0.7" fill="#bbb"/><rect x="428.0" y="296.7" width="0.7" height="0.7" fill="#bbb"/><rect x="426.6" y="301.5" width="0.7" height="0.7" fill="#888"/><rect x="423.0" y="302.2" width="0.7" height="0.7" fill="#c4c4c4"/><rect x="431.5" y="287.8" width="0.7" height="0.7" fill="#999"/><rect x="431.9" y="300.8" width="0.7" height="0.7" fill="#888"/><rect x="418.6" y="295.3" width="0.7" height="0.7" fill="#c4c4c4"/><rect x="426.8" y="304.7" width="0.7" height="0.7" fill="#888"/><rect x="422.7" y="297.7" width="0.7" height="0.7" fill="#aaa"/><rect x="431.0" y="302.3" width="0.7" height="0.7" fill="#aaa"/><rect x="432.1" y="295.5" width="0.7" height="0.7" fill="#c4c4c4"/><rect x="427.2" y="290.2" width="0.7" height="0.7" fill="#bbb"/><rect x="428.4" y="302.8" width="0.7" height="0.7" fill="#c4c4c4"/><rect x="427.1" y="300.7" width="0.7" height="0.7" fill="#bbb"/><rect x="461.6" y="300.0" width="0.7" height="0.7" fill="#999"/><rect x="455.0" y="319.9" width="0.7" height="0.7" fill="#999"/><rect x="450.3" y="320.2" width="0.7" height="0.7" fill="#aaa"/><rect x="422.2" y="294.5" width="0.7" height="0.7" fill="#888"/><rect x="423.6" y="304.9" width="0.7" height="0.7" fill="#c4c4c4"/><rect x="423.4" y="289.1" width="0.7" height="0.7" fill="#bbb"/><rect x="436.4" y="281.8" width="0.7" height="0.7" fill="#bbb"/><rect x="451.6" y="289.1" width="0.7" height="0.7" fill="#999"/><rect x="419.3" y="288.7" width="0.7" height="0.7" fill="#bbb"/><rect x="423.3" y="301.3" width="0.7" height="0.7" fill="#888"/><rect x="421.2" y="297.2" width="0.7" height="0.7" fill="#aaa"/><rect x="420.4" y="304.0" width="0.7" height="0.7" fill="#999"/><rect x="453.6" y="321.6" width="0.7" height="0.7" fill="#7a7a7a"/><rect x="422.6" y="290.8" width="0.7" height="0.7" fill="#aaa"/><rect x="463.7" y="316.0" width="0.7" height="0.7" fill="#aaa"/><rect x="464.7" y="300.1" width="0.7" height="0.7" fill="#aaa"/><rect x="457.0" y="289.9" width="0.7" height="0.7" fill="#888"/><rect x="461.5" y="301.1" width="0.7" height="0.7" fill="#999"/><rect x="445.4" y="285.6" width="0.7" height="0.7" fill="#999"/><rect x="430.8" y="285.9" width="0.7" height="0.7" fill="#7a7a7a"/><rect x="436.2" y="312.2" width="0.7" height="0.7" fill="#7a7a7a"/><rect x="439.7" y="285.0" width="0.7" height="0.7" fill="#c4c4c4"/><rect x="441.2" y="278.5" width="0.7" height="0.7" fill="#c4c4c4"/><rect x="438.5" y="313.7" width="0.7" height="0.7" fill="#bbb"/><rect x="419.7" y="297.5" width="0.7" height="0.7" fill="#888"/><rect x="417.7" y="296.8" width="0.7" height="0.7" fill="#7a7a7a"/><rect x="443.6" y="280.4" width="0.7" height="0.7" fill="#c4c4c4"/><rect x="455.5" y="287.5" width="0.7" height="0.7" fill="#aaa"/><rect x="423.2" y="290.1" width="0.7" height="0.7" fill="#c4c4c4"/><rect x="456.0" y="318.9" width="0.7" height="0.7" fill="#c4c4c4"/><rect x="445.1" y="320.6" width="0.7" height="0.7" fill="#7a7a7a"/><rect x="447.4" y="287.0" width="0.7" height="0.7" fill="#999"/><rect x="460.1" y="317.2" width="0.7" height="0.7" fill="#888"/><rect x="420.3" y="285.8" width="0.7" height="0.7" fill="#c4c4c4"/><rect x="425.3" y="307.7" width="0.7" height="0.7" fill="#aaa"/><rect x="463.6" y="301.8" width="0.7" height="0.7" fill="#c4c4c4"/><rect x="449.8" y="288.3" width="0.7" height="0.7" fill="#7a7a7a"/><rect x="460.9" y="291.8" width="0.7" height="0.7" fill="#aaa"/><rect x="446.9" y="320.4" width="0.7" height="0.7" fill="#999"/><rect x="466.7" y="304.4" width="0.7" height="0.7" fill="#c4c4c4"/><rect x="454.2" y="291.4" width="0.7" height="0.7" fill="#aaa"/><rect x="440.2" y="313.7" width="0.7" height="0.7" fill="#7a7a7a"/><rect x="429.4" y="307.8" width="0.7" height="0.7" fill="#bbb"/><rect x="422.1" y="289.1" width="0.7" height="0.7" fill="#7a7a7a"/><rect x="441.4" y="315.1" width="0.7" height="0.7" fill="#bbb"/><rect x="422.8" y="292.0" width="0.7" height="0.7" fill="#bbb"/><rect x="449.1" y="320.2" width="0.7" height="0.7" fill="#7a7a7a"/><rect x="437.4" y="283.5" width="0.7" height="0.7" fill="#bbb"/><rect x="420.5" y="288.5" width="0.7" height="0.7" fill="#bbb"/><rect x="422.3" y="300.1" width="0.7" height="0.7" fill="#aaa"/><rect x="455.6" y="292.8" width="0.7" height="0.7" fill="#aaa"/><rect x="452.9" y="321.8" width="0.7" height="0.7" fill="#bbb"/><rect x="446.3" y="283.4" width="0.7" height="0.7" fill="#c4c4c4"/><rect x="439.8" y="281.7" width="0.7" height="0.7" fill="#aaa"/><rect x="450.3" y="322.1" width="0.7" height="0.7" fill="#999"/><rect x="462.5" y="302.2" width="0.7" height="0.7" fill="#999"/><rect x="424.8" y="287.1" width="0.7" height="0.7" fill="#bbb"/><rect x="430.1" y="308.0" width="0.7" height="0.7" fill="#999"/><rect x="444.0" y="316.9" width="0.7" height="0.7" fill="#bbb"/><rect x="421.7" y="290.6" width="0.7" height="0.7" fill="#999"/><rect x="446.8" y="320.1" width="0.7" height="0.7" fill="#aaa"/><rect x="434.3" y="314.5" width="0.7" height="0.7" fill="#c4c4c4"/><rect x="466.5" y="301.6" width="0.7" height="0.7" fill="#c4c4c4"/><rect x="460.8" y="313.7" width="0.7" height="0.7" fill="#999"/><rect x="447.0" y="285.8" width="0.7" height="0.7" fill="#888"/><rect x="438.7" y="317.9" width="0.7" height="0.7" fill="#7a7a7a"/><rect x="447.0" y="320.4" width="0.7" height="0.7" fill="#c4c4c4"/><rect x="461.0" y="292.9" width="0.7" height="0.7" fill="#aaa"/><rect x="456.1" y="291.9" width="0.7" height="0.7" fill="#bbb"/><rect x="425.5" y="285.6" width="0.7" height="0.7" fill="#999"/><rect x="426.6" y="283.6" width="0.7" height="0.7" fill="#bbb"/><rect x="451.1" y="321.6" width="0.7" height="0.7" fill="#888"/><rect x="435.2" y="313.2" width="0.7" height="0.7" fill="#aaa"/><rect x="422.4" y="297.1" width="0.7" height="0.7" fill="#c4c4c4"/><rect x="447.0" y="286.2" width="0.7" height="0.7" fill="#888"/><rect x="446.7" y="286.6" width="0.7" height="0.7" fill="#aaa"/><rect x="463.8" y="317.4" width="0.7" height="0.7" fill="#c4c4c4"/><rect x="441.0" y="313.3" width="0.7" height="0.7" fill="#7a7a7a"/><rect x="463.1" y="315.0" width="0.7" height="0.7" fill="#bbb"/><rect x="421.0" y="292.3" width="0.7" height="0.7" fill="#7a7a7a"/><rect x="419.1" y="290.6" width="0.7" height="0.7" fill="#aaa"/><rect x="438.5" y="285.0" width="0.7" height="0.7" fill="#7a7a7a"/><rect x="428.6" y="284.4" width="0.7" height="0.7" fill="#bbb"/><rect x="460.4" y="297.5" width="0.7" height="0.7" fill="#aaa"/><rect x="429.0" y="284.5" width="0.7" height="0.7" fill="#7a7a7a"/><rect x="436.6" y="310.8" width="0.7" height="0.7" fill="#bbb"/><rect x="443.4" y="318.0" width="0.7" height="0.7" fill="#bbb"/><rect x="453.9" y="319.8" width="0.7" height="0.7" fill="#888"/><rect x="457.9" y="318.1" width="0.7" height="0.7" fill="#aaa"/><rect x="460.2" y="293.3" width="0.7" height="0.7" fill="#bbb"/><rect x="440.5" y="314.2" width="0.7" height="0.7" fill="#c4c4c4"/><rect x="452.5" y="323.0" width="0.7" height="0.7" fill="#aaa"/><rect x="469.4" y="310.0" width="0.7" height="0.7" fill="#aaa"/><rect x="463.1" y="305.1" width="0.7" height="0.7" fill="#7a7a7a"/><rect x="448.1" y="286.6" width="0.7" height="0.7" fill="#7a7a7a"/><rect x="464.7" y="310.1" width="0.7" height="0.7" fill="#7a7a7a"/><rect x="442.5" y="283.8" width="0.7" height="0.7" fill="#aaa"/><rect x="429.7" y="286.0" width="0.7" height="0.7" fill="#aaa"/><rect x="450.7" y="284.2" width="0.7" height="0.7" fill="#aaa"/><rect x="423.3" y="303.3" width="0.7" height="0.7" fill="#888"/><rect x="431.0" y="308.1" width="0.7" height="0.7" fill="#aaa"/><rect x="458.1" y="288.7" width="0.7" height="0.7" fill="#aaa"/><rect x="451.9" y="284.3" width="0.7" height="0.7" fill="#c4c4c4"/><rect x="419.3" y="290.3" width="0.7" height="0.7" fill="#999"/><rect x="445.0" y="320.7" width="0.7" height="0.7" fill="#c4c4c4"/><rect x="464.4" y="302.5" width="0.7" height="0.7" fill="#bbb"/><rect x="461.9" y="306.0" width="0.7" height="0.7" fill="#bbb"/><rect x="470.1" y="304.7" width="0.7" height="0.7" fill="#888"/><rect x="430.4" y="284.1" width="0.7" height="0.7" fill="#aaa"/><rect x="426.2" y="288.3" width="0.7" height="0.7" fill="#aaa"/><rect x="443.6" y="284.6" width="0.7" height="0.7" fill="#7a7a7a"/><rect x="462.1" y="294.1" width="0.7" height="0.7" fill="#888"/><rect x="443.7" y="317.5" width="0.7" height="0.7" fill="#c4c4c4"/><rect x="420.8" y="296.1" width="0.7" height="0.7" fill="#999"/><rect x="439.9" y="279.8" width="0.7" height="0.7" fill="#7a7a7a"/><rect x="462.8" y="301.2" width="0.7" height="0.7" fill="#c4c4c4"/><rect x="460.7" y="314.7" width="0.7" height="0.7" fill="#7a7a7a"/><rect x="450.6" y="321.3" width="0.7" height="0.7" fill="#888"/><rect x="457.6" y="294.8" width="0.7" height="0.7" fill="#888"/><rect x="451.7" y="321.4" width="0.7" height="0.7" fill="#bbb"/><rect x="436.0" y="280.4" width="0.7" height="0.7" fill="#888"/><rect x="423.5" y="305.2" width="0.7" height="0.7" fill="#bbb"/><rect x="422.8" y="289.6" width="0.7" height="0.7" fill="#7a7a7a"/><rect x="438.9" y="280.9" width="0.7" height="0.7" fill="#aaa"/><rect x="422.1" y="296.5" width="0.7" height="0.7" fill="#7a7a7a"/><rect x="450.6" y="286.4" width="0.7" height="0.7" fill="#bbb"/><rect x="450.8" y="323.1" width="0.7" height="0.7" fill="#bbb"/><rect x="462.3" y="316.2" width="0.7" height="0.7" fill="#bbb"/><rect x="455.8" y="320.2" width="0.7" height="0.7" fill="#bbb"/><rect x="415.6" y="291.1" width="0.7" height="0.7" fill="#7a7a7a"/><rect x="441.5" y="318.5" width="0.7" height="0.7" fill="#999"/><rect x="434.7" y="310.3" width="0.7" height="0.7" fill="#c4c4c4"/><rect x="441.7" y="319.8" width="0.7" height="0.7" fill="#888"/><rect x="456.5" y="292.9" width="0.7" height="0.7" fill="#aaa"/><rect x="423.8" y="301.7" width="0.7" height="0.7" fill="#aaa"/><rect x="422.1" y="294.6" width="0.7" height="0.7" fill="#bbb"/><rect x="461.6" y="294.5" width="0.7" height="0.7" fill="#aaa"/><rect x="432.5" y="309.3" width="0.7" height="0.7" fill="#bbb"/><rect x="453.5" y="320.9" width="0.7" height="0.7" fill="#7a7a7a"/><rect x="447.9" y="286.5" width="0.7" height="0.7" fill="#999"/><rect x="433.8" y="284.7" width="0.7" height="0.7" fill="#888"/><rect x="431.0" y="308.9" width="0.7" height="0.7" fill="#999"/><rect x="463.8" y="308.8" width="0.7" height="0.7" fill="#aaa"/><rect x="424.0" y="304.5" width="0.7" height="0.7" fill="#999"/><rect x="447.2" y="319.6" width="0.7" height="0.7" fill="#aaa"/><rect x="421.7" y="297.6" width="0.7" height="0.7" fill="#c4c4c4"/><rect x="439.3" y="282.5" width="0.7" height="0.7" fill="#999"/><rect x="441.7" y="315.5" width="0.7" height="0.7" fill="#999"/><rect x="430.7" y="313.7" width="0.7" height="0.7" fill="#888"/><rect x="421.9" y="285.7" width="0.7" height="0.7" fill="#7a7a7a"/><rect x="425.1" y="286.0" width="0.7" height="0.7" fill="#888"/><rect x="450.4" y="287.3" width="0.7" height="0.7" fill="#bbb"/><rect x="461.4" y="298.4" width="0.7" height="0.7" fill="#7a7a7a"/><rect x="462.2" y="300.9" width="0.7" height="0.7" fill="#999"/><rect x="421.9" y="293.3" width="0.7" height="0.7" fill="#888"/><rect x="453.5" y="320.0" width="0.7" height="0.7" fill="#bbb"/><rect x="454.0" y="319.9" width="0.7" height="0.7" fill="#c4c4c4"/><rect x="431.4" y="284.3" width="0.7" height="0.7" fill="#888"/><rect x="425.5" y="288.1" width="0.7" height="0.7" fill="#7a7a7a"/><rect x="443.5" y="285.0" width="0.7" height="0.7" fill="#888"/><rect x="444.9" y="317.7" width="0.7" height="0.7" fill="#888"/><rect x="418.4" y="292.3" width="0.7" height="0.7" fill="#c4c4c4"/><rect x="464.8" y="296.8" width="0.7" height="0.7" fill="#aaa"/><rect x="456.0" y="322.7" width="0.7" height="0.7" fill="#aaa"/><rect x="419.9" y="295.1" width="0.7" height="0.7" fill="#aaa"/><rect x="448.0" y="319.4" width="0.7" height="0.7" fill="#7a7a7a"/><rect x="437.9" y="285.0" width="0.7" height="0.7" fill="#7a7a7a"/><rect x="453.7" y="290.9" width="0.7" height="0.7" fill="#aaa"/><rect x="432.8" y="309.9" width="0.7" height="0.7" fill="#c4c4c4"/><rect x="429.1" y="281.9" width="0.7" height="0.7" fill="#999"/><rect x="465.5" y="313.0" width="0.7" height="0.7" fill="#c4c4c4"/><rect x="419.6" y="302.2" width="0.7" height="0.7" fill="#bbb"/><rect x="428.6" y="307.8" width="0.7" height="0.7" fill="#c4c4c4"/><rect x="451.5" y="321.7" width="0.7" height="0.7" fill="#999"/><rect x="422.5" y="294.4" width="0.7" height="0.7" fill="#999"/><rect x="419.2" y="290.8" width="0.7" height="0.7" fill="#999"/><rect x="452.2" y="289.6" width="0.7" height="0.7" fill="#999"/><rect x="454.5" y="290.4" width="0.7" height="0.7" fill="#aaa"/><rect x="435.9" y="282.6" width="0.7" height="0.7" fill="#888"/><rect x="420.6" y="296.3" width="0.7" height="0.7" fill="#c4c4c4"/><rect x="441.6" y="280.0" width="0.7" height="0.7" fill="#bbb"/><rect x="459.7" y="319.9" width="0.7" height="0.7" fill="#888"/><rect x="462.1" y="301.1" width="0.7" height="0.7" fill="#aaa"/><rect x="425.4" y="305.5" width="0.7" height="0.7" fill="#aaa"/><rect x="427.2" y="308.9" width="0.7" height="0.7" fill="#bbb"/><rect x="458.7" y="322.3" width="0.7" height="0.7" fill="#aaa"/><rect x="440.3" y="314.0" width="0.7" height="0.7" fill="#aaa"/><rect x="435.8" y="282.3" width="0.7" height="0.7" fill="#c4c4c4"/><rect x="450.0" y="285.5" width="0.7" height="0.7" fill="#c4c4c4"/><rect x="446.6" y="284.5" width="0.7" height="0.7" fill="#888"/><rect x="426.8" y="287.1" width="0.7" height="0.7" fill="#bbb"/><rect x="456.2" y="322.1" width="0.7" height="0.7" fill="#999"/><rect x="420.7" y="302.4" width="0.7" height="0.7" fill="#c4c4c4"/><rect x="466.3" y="304.5" width="0.7" height="0.7" fill="#999"/><rect x="451.3" y="286.5" width="0.7" height="0.7" fill="#aaa"/><rect x="453.2" y="322.9" width="0.7" height="0.7" fill="#aaa"/><rect x="436.0" y="312.2" width="0.7" height="0.7" fill="#c4c4c4"/><rect x="435.0" y="310.9" width="0.7" height="0.7" fill="#999"/><rect x="450.1" y="320.4" width="0.7" height="0.7" fill="#888"/><rect x="450.3" y="322.8" width="0.7" height="0.7" fill="#c4c4c4"/><rect x="440.2" y="313.6" width="0.7" height="0.7" fill="#999"/><rect x="456.2" y="293.1" width="0.7" height="0.7" fill="#7a7a7a"/><rect x="440.0" y="317.5" width="0.7" height="0.7" fill="#7a7a7a"/><rect x="443.7" y="284.4" width="0.7" height="0.7" fill="#7a7a7a"/><rect x="464.7" y="297.7" width="0.7" height="0.7" fill="#c4c4c4"/><rect x="446.8" y="320.6" width="0.7" height="0.7" fill="#aaa"/><rect x="426.0" y="307.0" width="0.7" height="0.7" fill="#7a7a7a"/><rect x="454.3" y="290.6" width="0.7" height="0.7" fill="#bbb"/><rect x="435.6" y="314.4" width="0.7" height="0.7" fill="#888"/><rect x="435.4" y="312.2" width="0.7" height="0.7" fill="#c4c4c4"/><rect x="446.2" y="319.5" width="0.7" height="0.7" fill="#bbb"/><rect x="418.6" y="293.6" width="0.7" height="0.7" fill="#7a7a7a"/><rect x="451.1" y="321.3" width="0.7" height="0.7" fill="#999"/><rect x="438.6" y="315.2" width="0.7" height="0.7" fill="#888"/><rect x="447.6" y="320.7" width="0.7" height="0.7" fill="#bbb"/><rect x="458.9" y="292.2" width="0.7" height="0.7" fill="#bbb"/><rect x="455.6" y="321.1" width="0.7" height="0.7" fill="#7a7a7a"/><rect x="453.4" y="288.1" width="0.7" height="0.7" fill="#aaa"/><rect x="466.7" y="305.1" width="0.7" height="0.7" fill="#aaa"/><rect x="461.7" y="302.0" width="0.7" height="0.7" fill="#bbb"/><rect x="426.0" y="288.1" width="0.7" height="0.7" fill="#888"/><rect x="462.8" y="308.4" width="0.7" height="0.7" fill="#c4c4c4"/><rect x="425.7" y="308.3" width="0.7" height="0.7" fill="#c4c4c4"/><rect x="445.3" y="323.0" width="0.7" height="0.7" fill="#bbb"/><rect x="445.0" y="285.8" width="0.7" height="0.7" fill="#aaa"/><rect x="438.0" y="283.0" width="0.7" height="0.7" fill="#c4c4c4"/><rect x="460.9" y="312.9" width="0.7" height="0.7" fill="#c4c4c4"/><rect x="450.1" y="325.4" width="0.7" height="0.7" fill="#aaa"/><rect x="449.3" y="282.9" width="0.7" height="0.7" fill="#aaa"/><rect x="444.8" y="317.3" width="0.7" height="0.7" fill="#c4c4c4"/><rect x="441.8" y="315.6" width="0.7" height="0.7" fill="#c4c4c4"/><rect x="436.7" y="281.9" width="0.7" height="0.7" fill="#aaa"/><rect x="437.7" y="319.2" width="0.7" height="0.7" fill="#999"/><rect x="450.4" y="288.4" width="0.7" height="0.7" fill="#aaa"/><rect x="434.6" y="313.2" width="0.7" height="0.7" fill="#999"/><rect x="458.7" y="291.7" width="0.7" height="0.7" fill="#888"/><rect x="425.2" y="306.7" width="0.7" height="0.7" fill="#999"/><rect x="439.7" y="312.7" width="0.7" height="0.7" fill="#888"/><rect x="422.5" y="294.4" width="0.7" height="0.7" fill="#bbb"/><rect x="427.8" y="280.3" width="0.7" height="0.7" fill="#c4c4c4"/><rect x="431.9" y="285.3" width="0.7" height="0.7" fill="#c4c4c4"/><rect x="420.1" y="296.8" width="0.7" height="0.7" fill="#999"/><rect x="418.0" y="298.2" width="0.7" height="0.7" fill="#888"/><rect x="424.7" y="308.4" width="0.7" height="0.7" fill="#c4c4c4"/><rect x="416.7" y="293.9" width="0.7" height="0.7" fill="#aaa"/><rect x="426.5" y="307.3" width="0.7" height="0.7" fill="#999"/><rect x="446.2" y="283.3" width="0.7" height="0.7" fill="#999"/><rect x="421.1" y="291.8" width="0.7" height="0.7" fill="#999"/><rect x="427.0" y="306.8" width="0.7" height="0.7" fill="#bbb"/><rect x="427.7" y="307.4" width="0.7" height="0.7" fill="#888"/><rect x="447.7" y="320.3" width="0.7" height="0.7" fill="#c4c4c4"/><rect x="434.5" y="281.8" width="0.7" height="0.7" fill="#aaa"/><rect x="420.4" y="306.2" width="0.7" height="0.7" fill="#999"/><rect x="417.3" y="295.5" width="0.7" height="0.7" fill="#c4c4c4"/><rect x="419.6" y="288.7" width="0.7" height="0.7" fill="#999"/><rect x="462.5" y="311.5" width="0.7" height="0.7" fill="#7a7a7a"/><rect x="441.3" y="318.6" width="0.7" height="0.7" fill="#bbb"/><rect x="464.0" y="310.2" width="0.7" height="0.7" fill="#888"/><rect x="428.7" y="308.0" width="0.7" height="0.7" fill="#c4c4c4"/><rect x="449.4" y="287.3" width="0.7" height="0.7" fill="#999"/><rect x="416.9" y="313.6" width="0.7" height="0.7" fill="#aaa"/><rect x="442.0" y="317.0" width="0.7" height="0.7" fill="#c4c4c4"/><rect x="433.8" y="322.1" width="0.7" height="0.7" fill="#aaa"/><rect x="451.7" y="321.9" width="0.7" height="0.7" fill="#bbb"/><rect x="439.2" y="311.5" width="0.7" height="0.7" fill="#aaa"/><rect x="429.4" y="323.2" width="0.7" height="0.7" fill="#c4c4c4"/><rect x="437.9" y="317.4" width="0.7" height="0.7" fill="#c4c4c4"/><rect x="441.5" y="313.9" width="0.7" height="0.7" fill="#bbb"/><rect x="417.4" y="317.1" width="0.7" height="0.7" fill="#bbb"/><rect x="445.0" y="316.0" width="0.7" height="0.7" fill="#c4c4c4"/><rect x="437.8" y="321.8" width="0.7" height="0.7" fill="#999"/><rect x="451.1" y="311.0" width="0.7" height="0.7" fill="#7a7a7a"/><rect x="441.1" y="327.8" width="0.7" height="0.7" fill="#999"/><rect x="430.5" y="322.4" width="0.7" height="0.7" fill="#c4c4c4"/><rect x="443.8" y="327.9" width="0.7" height="0.7" fill="#7a7a7a"/><rect x="441.4" y="316.9" width="0.7" height="0.7" fill="#7a7a7a"/><rect x="432.5" y="314.1" width="0.7" height="0.7" fill="#999"/><rect x="437.9" y="315.7" width="0.7" height="0.7" fill="#aaa"/><rect x="446.1" y="323.0" width="0.7" height="0.7" fill="#aaa"/><rect x="429.4" y="328.9" width="0.7" height="0.7" fill="#c4c4c4"/><rect x="444.6" y="310.1" width="0.7" height="0.7" fill="#888"/><rect x="444.2" y="323.9" width="0.7" height="0.7" fill="#7a7a7a"/><rect x="444.0" y="314.5" width="0.7" height="0.7" fill="#bbb"/><rect x="441.0" y="319.0" width="0.7" height="0.7" fill="#aaa"/><rect x="431.6" y="325.8" width="0.7" height="0.7" fill="#7a7a7a"/><rect x="437.7" y="320.6" width="0.7" height="0.7" fill="#888"/><rect x="437.1" y="325.8" width="0.7" height="0.7" fill="#bbb"/><rect x="437.9" y="311.4" width="0.7" height="0.7" fill="#999"/><rect x="427.3" y="306.4" width="0.7" height="0.7" fill="#aaa"/><rect x="431.1" y="314.7" width="0.7" height="0.7" fill="#7a7a7a"/><rect x="430.2" y="330.0" width="0.7" height="0.7" fill="#aaa"/><rect x="432.8" y="312.8" width="0.7" height="0.7" fill="#bbb"/><rect x="433.8" y="315.0" width="0.7" height="0.7" fill="#c4c4c4"/><rect x="444.6" y="316.3" width="0.7" height="0.7" fill="#aaa"/><rect x="426.3" y="315.7" width="0.7" height="0.7" fill="#999"/><rect x="446.4" y="319.3" width="0.7" height="0.7" fill="#bbb"/><rect x="434.7" y="321.5" width="0.7" height="0.7" fill="#c4c4c4"/><rect x="437.1" y="314.6" width="0.7" height="0.7" fill="#888"/><rect x="433.1" y="326.8" width="0.7" height="0.7" fill="#bbb"/><rect x="436.2" y="321.9" width="0.7" height="0.7" fill="#999"/><rect x="431.1" y="315.9" width="0.7" height="0.7" fill="#888"/><rect x="454.9" y="306.3" width="0.7" height="0.7" fill="#bbb"/><rect x="444.7" y="318.4" width="0.7" height="0.7" fill="#c4c4c4"/><rect x="436.0" y="311.1" width="0.7" height="0.7" fill="#c4c4c4"/><rect x="444.5" y="314.0" width="0.7" height="0.7" fill="#999"/><rect x="440.3" y="323.9" width="0.7" height="0.7" fill="#888"/><rect x="431.4" y="312.5" width="0.7" height="0.7" fill="#aaa"/><rect x="428.4" y="308.2" width="0.7" height="0.7" fill="#999"/><rect x="426.6" y="316.3" width="0.7" height="0.7" fill="#bbb"/><rect x="442.9" y="309.5" width="0.7" height="0.7" fill="#999"/><rect x="416.5" y="315.1" width="0.7" height="0.7" fill="#7a7a7a"/><rect x="442.4" y="326.3" width="0.7" height="0.7" fill="#888"/><rect x="441.6" y="324.1" width="0.7" height="0.7" fill="#aaa"/><rect x="436.8" y="323.4" width="0.7" height="0.7" fill="#bbb"/><rect x="438.0" y="306.6" width="0.7" height="0.7" fill="#bbb"/><rect x="437.5" y="312.7" width="0.7" height="0.7" fill="#7a7a7a"/><rect x="430.4" y="317.3" width="0.7" height="0.7" fill="#999"/><rect x="427.8" y="313.6" width="0.7" height="0.7" fill="#aaa"/><rect x="446.5" y="318.8" width="0.7" height="0.7" fill="#7a7a7a"/><rect x="433.7" y="309.4" width="0.7" height="0.7" fill="#aaa"/><rect x="439.5" y="314.3" width="0.7" height="0.7" fill="#888"/><rect x="436.9" y="317.9" width="0.7" height="0.7" fill="#888"/><rect x="427.5" y="317.2" width="0.7" height="0.7" fill="#999"/><rect x="430.2" y="318.7" width="0.7" height="0.7" fill="#aaa"/><rect x="436.9" y="314.8" width="0.7" height="0.7" fill="#c4c4c4"/><rect x="444.7" y="312.7" width="0.7" height="0.7" fill="#bbb"/><rect x="422.4" y="314.1" width="0.7" height="0.7" fill="#aaa"/><rect x="436.3" y="320.4" width="0.7" height="0.7" fill="#aaa"/><rect x="435.1" y="318.6" width="0.7" height="0.7" fill="#999"/><rect x="431.6" y="324.7" width="0.7" height="0.7" fill="#7a7a7a"/><rect x="456.5" y="319.0" width="0.7" height="0.7" fill="#bbb"/><rect x="457.8" y="315.7" width="0.7" height="0.7" fill="#999"/><rect x="462.4" y="317.3" width="0.7" height="0.7" fill="#aaa"/><rect x="451.1" y="317.0" width="0.7" height="0.7" fill="#888"/><rect x="459.8" y="329.8" width="0.7" height="0.7" fill="#aaa"/><rect x="461.7" y="315.2" width="0.7" height="0.7" fill="#888"/><rect x="454.2" y="320.9" width="0.7" height="0.7" fill="#7a7a7a"/><rect x="450.3" y="332.4" width="0.7" height="0.7" fill="#999"/><rect x="446.8" y="323.3" width="0.7" height="0.7" fill="#7a7a7a"/><rect x="461.2" y="332.7" width="0.7" height="0.7" fill="#7a7a7a"/><rect x="416" y="285.2" width="18.2" height="21.1" fill="none" stroke="#666" stroke-width="0.75"/><rect x="446.7" y="313.2" width="18.9" height="20.3" fill="none" stroke="#555" stroke-width="0.8"/><g filter="url(#blur05)"><path d="M423.80,290.70 C424.68,289.42 426.77,288.40 428.50,287.60 C430.23,286.80 431.90,286.23 434.20,285.90 C436.50,285.57 439.98,285.27 442.30,285.60 C444.62,285.93 446.18,286.67 448.10,287.90 C450.02,289.13 451.88,291.18 453.80,293.00 C455.72,294.82 458.33,296.88 459.60,298.80 C460.87,300.72 461.20,302.38 461.40,304.50 C461.60,306.62 461.48,309.38 460.80,311.50 C460.12,313.62 458.85,315.77 457.30,317.20 C455.75,318.63 453.42,320.00 451.50,320.10 C449.58,320.20 447.52,319.05 445.80,317.80 C444.08,316.55 443.13,314.13 441.20,312.60 C439.27,311.07 436.52,309.65 434.20,308.60 C431.88,307.55 428.97,307.55 427.30,306.30 C425.63,305.05 424.88,302.93 424.20,301.10 C423.52,299.27 423.27,297.03 423.20,295.30 C423.13,293.57 422.92,291.98 423.80,290.70 Z" fill="#b8b8b8" stroke="none"/><path d="M434.37,290.19 C435.80,289.07 439.64,288.28 442.55,288.48 C445.46,288.69 448.97,289.48 451.82,291.41 C454.67,293.34 457.96,297.33 459.63,300.07 C461.30,302.82 461.82,305.48 461.82,307.88 C461.82,310.28 461.30,312.96 459.63,314.47 C457.96,315.97 454.48,317.27 451.82,316.91 C449.16,316.54 446.17,314.57 443.65,312.27 C441.12,309.97 438.30,305.97 436.69,303.12 C435.09,300.28 434.39,297.35 434.01,295.19 C433.62,293.04 432.95,291.31 434.37,290.19 Z" fill="#a8a8a8" stroke="none"/><path d="M435.70,291.24 C437.01,290.21 440.54,289.49 443.21,289.67 C445.88,289.86 449.11,290.59 451.72,292.36 C454.33,294.13 457.36,297.79 458.89,300.31 C460.42,302.83 460.90,305.28 460.90,307.48 C460.90,309.68 460.42,312.15 458.89,313.53 C457.36,314.91 454.17,316.10 451.72,315.77 C449.27,315.43 446.53,313.62 444.22,311.51 C441.90,309.40 439.31,305.73 437.83,303.11 C436.36,300.50 435.72,297.81 435.37,295.83 C435.01,293.85 434.40,292.27 435.70,291.24 Z" fill="#989898" stroke="none"/><path d="M427.2,288.4 L434.2,286.2 L434.2,308.3 L427.6,306.2 C425.6,302 425.4,294 427.2,288.4 Z" fill="#efefef"/><rect x="429.2" y="287.6" width="1.6" height="19" fill="#cfcfcf" opacity="0.8"/><path d="M437.30,292.50 C438.47,291.58 441.62,290.93 444.00,291.10 C446.38,291.27 449.27,291.92 451.60,293.50 C453.93,295.08 456.63,298.35 458.00,300.60 C459.37,302.85 459.80,305.03 459.80,307.00 C459.80,308.97 459.37,311.17 458.00,312.40 C456.63,313.63 453.78,314.70 451.60,314.40 C449.42,314.10 446.97,312.48 444.90,310.60 C442.83,308.72 440.52,305.43 439.20,303.10 C437.88,300.77 437.32,298.37 437.00,296.60 C436.68,294.83 436.13,293.42 437.30,292.50 Z" fill="#b8b8b8" stroke="#fbfbfb" stroke-width="0.75"/><path d="M438.41,293.38 C439.48,292.53 442.37,291.94 444.55,292.09 C446.73,292.24 449.38,292.84 451.52,294.29 C453.66,295.74 456.13,298.74 457.38,300.80 C458.64,302.86 459.03,304.86 459.03,306.67 C459.03,308.47 458.64,310.49 457.38,311.62 C456.13,312.75 453.52,313.72 451.52,313.45 C449.52,313.18 447.27,311.69 445.38,309.97 C443.48,308.24 441.36,305.23 440.15,303.09 C438.94,300.95 438.42,298.75 438.13,297.13 C437.84,295.51 437.34,294.22 438.41,293.38 Z" fill="#a1a1a1"/><path d="M439.52,294.25 C440.49,293.49 443.11,292.94 445.10,293.08 C447.09,293.22 449.49,293.76 451.43,295.08 C453.38,296.40 455.63,299.12 456.77,301.00 C457.91,302.88 458.27,304.69 458.27,306.33 C458.27,307.97 457.91,309.81 456.77,310.83 C455.63,311.86 453.25,312.75 451.43,312.50 C449.61,312.25 447.57,310.90 445.85,309.33 C444.13,307.76 442.20,305.03 441.10,303.08 C440.00,301.14 439.53,299.14 439.27,297.67 C439.00,296.19 438.54,295.01 439.52,294.25 Z" fill="#8b8b8b"/><path d="M440.62,295.12 C441.50,294.44 443.86,293.95 445.65,294.08 C447.44,294.20 449.60,294.69 451.35,295.88 C453.10,297.06 455.12,299.51 456.15,301.20 C457.17,302.89 457.50,304.53 457.50,306.00 C457.50,307.47 457.17,309.12 456.15,310.05 C455.12,310.97 452.99,311.77 451.35,311.55 C449.71,311.32 447.88,310.11 446.32,308.70 C444.77,307.29 443.04,304.83 442.05,303.08 C441.06,301.33 440.64,299.53 440.40,298.20 C440.16,296.88 439.75,295.81 440.62,295.12 Z" fill="#989898" stroke="#fbfbfb" stroke-width="0.75"/><path d="M441.51,295.82 C442.31,295.20 444.46,294.75 446.09,294.87 C447.72,294.98 449.69,295.43 451.28,296.51 C452.88,297.59 454.72,299.82 455.66,301.36 C456.59,302.90 456.89,304.39 456.89,305.73 C456.89,307.08 456.59,308.58 455.66,309.42 C454.72,310.27 452.78,310.99 451.28,310.79 C449.79,310.58 448.12,309.48 446.70,308.19 C445.29,306.91 443.71,304.66 442.81,303.07 C441.91,301.47 441.52,299.83 441.31,298.63 C441.09,297.42 440.71,296.45 441.51,295.82 Z" fill="#838383"/><path d="M442.40,296.52 C443.12,295.96 445.06,295.56 446.53,295.66 C448.00,295.76 449.78,296.17 451.22,297.14 C452.66,298.12 454.32,300.13 455.16,301.52 C456.01,302.91 456.27,304.25 456.27,305.47 C456.27,306.68 456.01,308.04 455.16,308.80 C454.32,309.56 452.56,310.21 451.22,310.03 C449.87,309.84 448.36,308.85 447.08,307.69 C445.81,306.53 444.38,304.50 443.57,303.06 C442.76,301.62 442.41,300.14 442.21,299.05 C442.02,297.96 441.68,297.09 442.40,296.52 Z" fill="#6f6f6f"/><path d="M443.29,297.23 C443.93,296.72 445.66,296.36 446.97,296.45 C448.28,296.55 449.87,296.90 451.15,297.77 C452.43,298.65 453.92,300.44 454.67,301.68 C455.42,302.92 455.66,304.12 455.66,305.20 C455.66,306.28 455.42,307.49 454.67,308.17 C453.92,308.85 452.35,309.43 451.15,309.27 C449.95,309.11 448.60,308.22 447.46,307.18 C446.33,306.14 445.05,304.34 444.33,303.06 C443.61,301.77 443.29,300.45 443.12,299.48 C442.95,298.51 442.64,297.73 443.29,297.23 Z" fill="#7c7c7c" stroke="#fbfbfb" stroke-width="0.75"/><path d="M443.99,297.79 C444.57,297.33 446.14,297.01 447.32,297.09 C448.51,297.17 449.94,297.50 451.10,298.28 C452.26,299.07 453.60,300.69 454.28,301.81 C454.95,302.93 455.17,304.01 455.17,304.99 C455.17,305.96 454.95,307.06 454.28,307.67 C453.60,308.28 452.18,308.81 451.10,308.66 C450.01,308.51 448.80,307.71 447.77,306.77 C446.74,305.84 445.59,304.21 444.94,303.05 C444.28,301.89 444.00,300.70 443.85,299.82 C443.69,298.94 443.41,298.24 443.99,297.79 Z" fill="#696969"/><path d="M444.70,298.35 C445.22,297.94 446.62,297.65 447.67,297.72 C448.73,297.80 450.01,298.09 451.04,298.79 C452.08,299.49 453.27,300.94 453.88,301.94 C454.49,302.93 454.68,303.90 454.68,304.77 C454.68,305.65 454.49,306.62 453.88,307.17 C453.27,307.71 452.01,308.19 451.04,308.05 C450.08,307.92 448.99,307.20 448.07,306.37 C447.16,305.53 446.13,304.08 445.55,303.04 C444.96,302.01 444.71,300.95 444.57,300.16 C444.43,299.38 444.19,298.75 444.70,298.35 Z" fill="#555555"/><path d="M445.41,298.90 C445.87,298.55 447.10,298.29 448.03,298.36 C448.96,298.42 450.08,298.68 450.99,299.30 C451.90,299.91 452.95,301.19 453.49,302.06 C454.02,302.94 454.19,303.79 454.19,304.56 C454.19,305.33 454.02,306.19 453.49,306.67 C452.95,307.15 451.84,307.56 450.99,307.45 C450.14,307.33 449.18,306.70 448.38,305.96 C447.57,305.23 446.67,303.95 446.15,303.04 C445.64,302.13 445.42,301.19 445.30,300.50 C445.17,299.81 444.96,299.26 445.41,298.90 Z" fill="#606060" stroke="#fbfbfb" stroke-width="0.75"/><path d="M446.03,299.39 C446.43,299.08 447.52,298.86 448.33,298.91 C449.15,298.97 450.14,299.19 450.94,299.74 C451.74,300.28 452.67,301.40 453.14,302.18 C453.61,302.95 453.76,303.70 453.76,304.37 C453.76,305.05 453.61,305.80 453.14,306.23 C452.67,306.65 451.69,307.02 450.94,306.91 C450.19,306.81 449.35,306.26 448.64,305.61 C447.93,304.96 447.14,303.84 446.69,303.03 C446.23,302.23 446.04,301.41 445.93,300.80 C445.82,300.20 445.63,299.71 446.03,299.39 Z" fill="#4e4e4e"/><path d="M446.65,299.88 C447.00,299.61 447.93,299.42 448.64,299.47 C449.35,299.52 450.20,299.71 450.90,300.18 C451.59,300.65 452.39,301.62 452.80,302.29 C453.20,302.96 453.33,303.60 453.33,304.19 C453.33,304.77 453.20,305.42 452.80,305.79 C452.39,306.15 451.54,306.47 450.90,306.38 C450.25,306.29 449.52,305.81 448.91,305.25 C448.30,304.70 447.61,303.72 447.22,303.03 C446.83,302.34 446.66,301.63 446.57,301.10 C446.47,300.58 446.31,300.16 446.65,299.88 Z" fill="#3c3c3c"/><path d="M447.28,300.38 C447.57,300.15 448.35,299.98 448.95,300.02 C449.55,300.07 450.27,300.23 450.85,300.62 C451.43,301.02 452.11,301.84 452.45,302.40 C452.79,302.96 452.90,303.51 452.90,304.00 C452.90,304.49 452.79,305.04 452.45,305.35 C452.11,305.66 451.40,305.93 450.85,305.85 C450.30,305.78 449.69,305.37 449.18,304.90 C448.66,304.43 448.08,303.61 447.75,303.02 C447.42,302.44 447.28,301.84 447.20,301.40 C447.12,300.96 446.98,300.60 447.28,300.38 Z" fill="#222" stroke="#fbfbfb" stroke-width="0.7"/><path d="M448.87,301.63 C449.02,301.52 449.43,301.43 449.74,301.45 C450.05,301.47 450.43,301.56 450.73,301.76 C451.03,301.97 451.38,302.40 451.56,302.69 C451.74,302.98 451.80,303.26 451.80,303.52 C451.80,303.78 451.74,304.06 451.56,304.22 C451.38,304.38 451.01,304.52 450.73,304.48 C450.45,304.44 450.13,304.23 449.86,303.99 C449.59,303.74 449.29,303.32 449.12,303.01 C448.95,302.71 448.87,302.40 448.83,302.17 C448.79,301.94 448.72,301.75 448.87,301.63 Z" fill="#050505"/></g><path d="M423.80,290.70 C424.68,289.42 426.77,288.40 428.50,287.60 C430.23,286.80 431.90,286.23 434.20,285.90 C436.50,285.57 439.98,285.27 442.30,285.60 C444.62,285.93 446.18,286.67 448.10,287.90 C450.02,289.13 451.88,291.18 453.80,293.00 C455.72,294.82 458.33,296.88 459.60,298.80 C460.87,300.72 461.20,302.38 461.40,304.50 C461.60,306.62 461.48,309.38 460.80,311.50 C460.12,313.62 458.85,315.77 457.30,317.20 C455.75,318.63 453.42,320.00 451.50,320.10 C449.58,320.20 447.52,319.05 445.80,317.80 C444.08,316.55 443.13,314.13 441.20,312.60 C439.27,311.07 436.52,309.65 434.20,308.60 C431.88,307.55 428.97,307.55 427.30,306.30 C425.63,305.05 424.88,302.93 424.20,301.10 C423.52,299.27 423.27,297.03 423.20,295.30 C423.13,293.57 422.92,291.98 423.80,290.70 Z" fill="none" stroke="#000" stroke-width="1.3"/><path d="M425.3,290.2 C423.2,294 423.0,300 425.2,304.6" fill="none" stroke="#000" stroke-width="2.4"/><line x1="434.3" y1="286.2" x2="434.3" y2="308.5" stroke="#888" stroke-width="0.8"/><text x="430.7" y="269.2" font-size="6.9" fill="#222" textLength="9.4" lengthAdjust="spacingAndGlyphs">5%</text><path d="M427.0,266.9 C427.8,265.6 428.6,266.1 428.7,266.5 C428.9,267.0 429.6,267.4 430.3,266.1" fill="none" stroke="#333" stroke-width="0.6"/><text x="461.5" y="279.6" font-size="6.9" fill="#222" textLength="9.4" lengthAdjust="spacingAndGlyphs">5%</text><path d="M457.8,277.3 C458.6,276.0 459.4,276.5 459.5,276.9 C459.7,277.4 460.4,277.8 461.1,276.5" fill="none" stroke="#333" stroke-width="0.6"/><text x="480.7" y="296.8" font-size="6.9" fill="#222" textLength="9.4" lengthAdjust="spacingAndGlyphs">5%</text><path d="M477.0,294.5 C477.8,293.2 478.6,293.7 478.7,294.1 C478.9,294.6 479.6,295.0 480.3,293.7" fill="none" stroke="#333" stroke-width="0.6"/><line x1="433.2" y1="273.0" x2="429.6" y2="283" stroke="#444" stroke-width="0.55"/><polygon points="428.8,285.8 427.7,282.3 431.1,283.3" fill="#111"/><line x1="459.6" y1="282.6" x2="452.6" y2="295.6" stroke="#555" stroke-width="0.55"/><polygon points="451.3,298.2 450.6,294.6 453.8,295.9" fill="#111"/><line x1="478.0" y1="299.2" x2="466.6" y2="310.6" stroke="#555" stroke-width="0.55"/><polygon points="464.6,312.8 465.2,309.2 468.0,311.8" fill="#111"/><rect x="0.5" y="0.5" width="518.8" height="436.8" fill="none" stroke="#000" stroke-width="1.2"/></g></svg>
</body></html>
